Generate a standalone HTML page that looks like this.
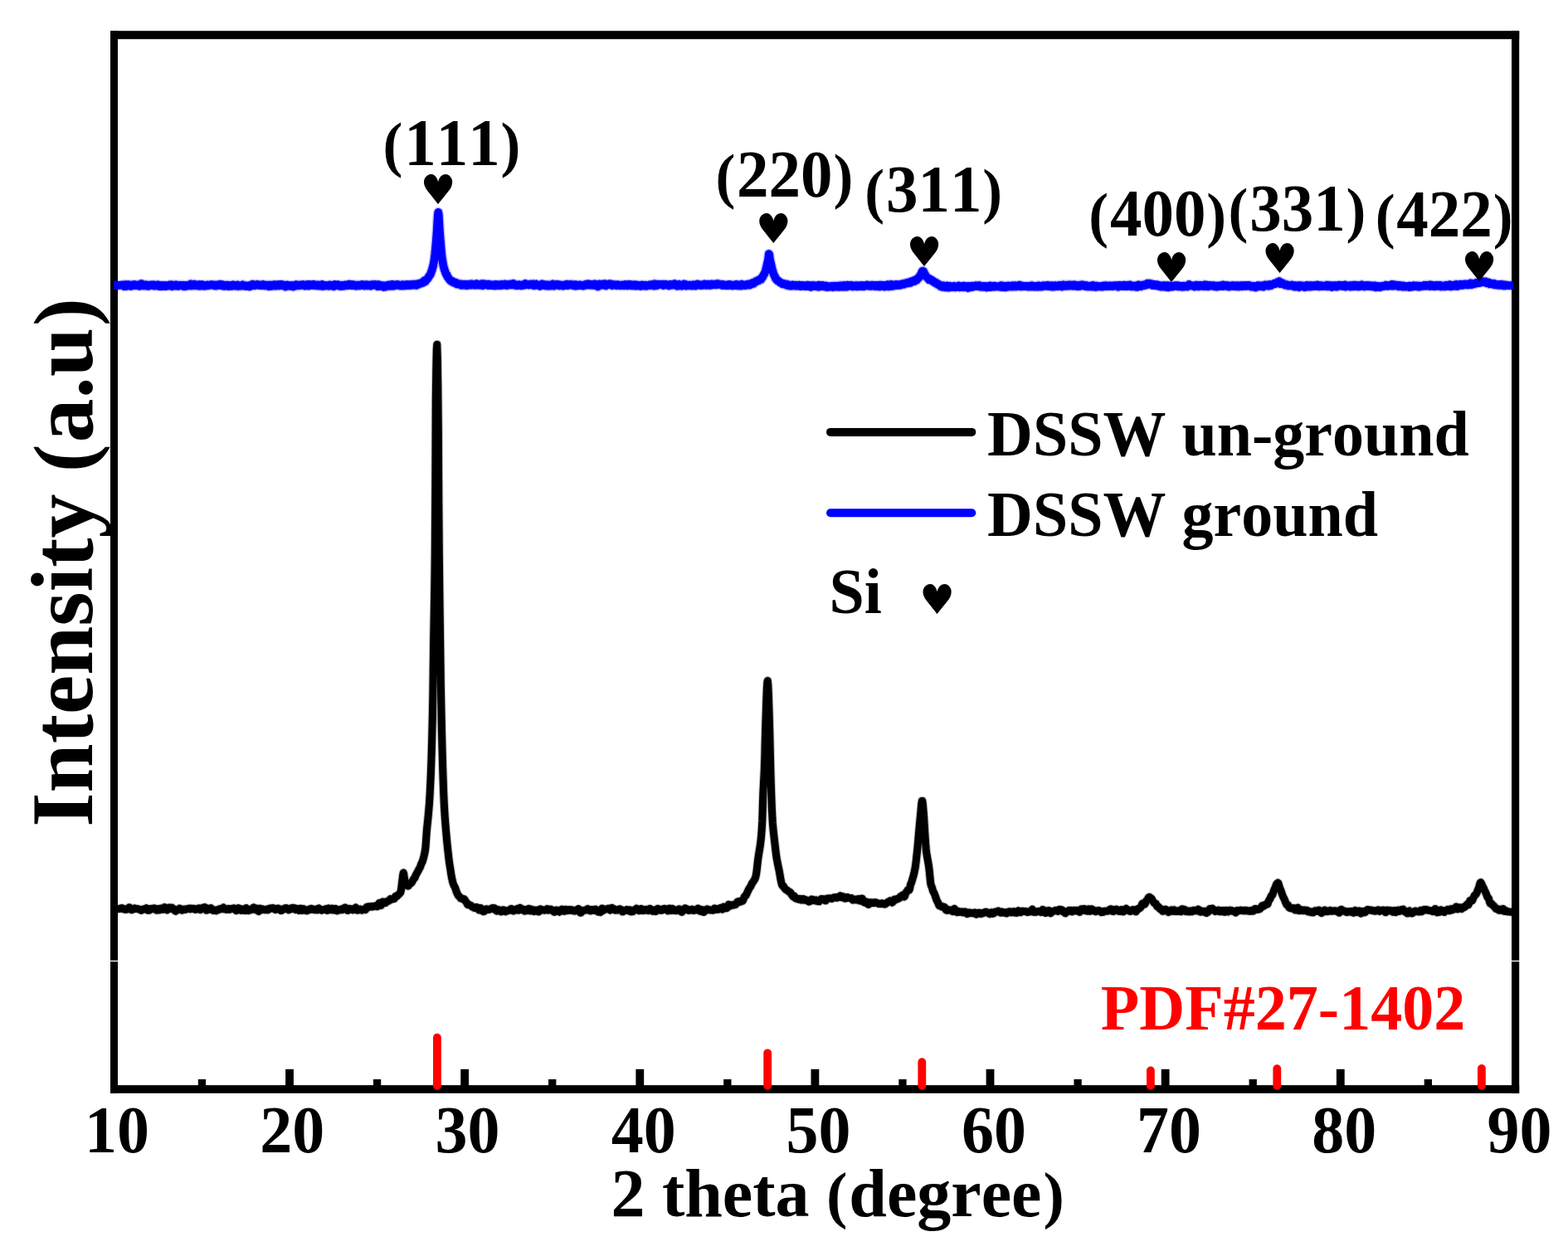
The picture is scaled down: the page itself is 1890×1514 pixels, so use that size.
<!DOCTYPE html>
<html lang="en"><head><meta charset="utf-8">
<style>
html,body{margin:0;padding:0;background:#fff;}
body{width:1890px;height:1514px;overflow:hidden;}
svg{display:block;position:absolute;left:0;top:0;}
text{font-family:"Liberation Serif",serif;font-weight:bold;font-kerning:none;fill:#000;white-space:pre;}
.sym{font-family:"DejaVu Sans","Liberation Serif",sans-serif;font-weight:normal;}
.curve{fill:none;stroke-linejoin:round;stroke-linecap:butt;}
</style></head><body>
<svg width="1890" height="1514" viewBox="0 0 1890 1514">
<rect x="0" y="0" width="1890" height="1514" fill="#fff"/>
<g id="frame" fill="#000">
<rect x="133" y="37.2" width="9" height="1280.6"/>
<rect x="1822" y="37.2" width="9.2" height="1280.6"/>
<rect x="133" y="37.2" width="1698.2" height="10"/>
<rect x="133" y="1308.1" width="1698.2" height="9.7"/>
</g>
<g id="ticks" fill="#000">
<rect x="238.81" y="1301" width="9.3" height="8.1"/>
<rect x="344.12" y="1288.8" width="9.8" height="20.3"/>
<rect x="449.94" y="1301" width="9.3" height="8.1"/>
<rect x="555.25" y="1288.8" width="9.8" height="20.3"/>
<rect x="661.06" y="1301" width="9.3" height="8.1"/>
<rect x="766.38" y="1288.8" width="9.8" height="20.3"/>
<rect x="872.19" y="1301" width="9.3" height="8.1"/>
<rect x="977.50" y="1288.8" width="9.8" height="20.3"/>
<rect x="1083.31" y="1301" width="9.3" height="8.1"/>
<rect x="1188.62" y="1288.8" width="9.8" height="20.3"/>
<rect x="1294.44" y="1301" width="9.3" height="8.1"/>
<rect x="1399.75" y="1288.8" width="9.8" height="20.3"/>
<rect x="1505.56" y="1301" width="9.3" height="8.1"/>
<rect x="1610.88" y="1288.8" width="9.8" height="20.3"/>
<rect x="1716.69" y="1301" width="9.3" height="8.1"/>
</g>
<defs>
<polyline id="c-unground" points="137.3,1095.7 137.8,1095.7 138.3,1095.7 138.8,1095.7 139.3,1095.7 139.8,1095.7 140.3,1095.7 140.8,1095.7 141.3,1095.7
141.8,1095.7 142.3,1095.7 142.8,1095.7 143.3,1095.6 143.8,1095.5 144.3,1095.4 144.8,1095.2 145.3,1094.9 145.8,1094.8
146.3,1094.7 146.8,1094.6 147.3,1094.7 147.8,1095.2 148.3,1095.7 148.8,1095.6 149.3,1095.6 149.8,1095.9 150.3,1096.2
150.8,1096.3 151.3,1096.5 151.8,1096.3 152.3,1095.8 152.8,1095.5 153.3,1095.8 153.8,1096.0 154.3,1095.7 154.8,1094.8
155.3,1094.0 155.8,1093.7 156.3,1094.0 156.8,1094.7 157.3,1095.4 157.8,1096.0 158.3,1096.6 158.8,1096.8 159.3,1096.7
159.8,1096.3 160.3,1095.8 160.8,1095.4 161.3,1095.3 161.8,1095.1 162.3,1094.8 162.8,1094.9 163.3,1095.4 163.8,1095.6
164.3,1095.5 164.8,1095.4 165.3,1095.4 165.8,1095.4 166.3,1095.6 166.8,1095.8 167.3,1095.9 167.8,1096.2 168.3,1096.5
168.8,1096.6 169.3,1096.7 169.8,1097.1 170.3,1097.4 170.8,1097.1 171.3,1096.4 171.8,1096.2 172.3,1096.2 172.8,1095.9
173.3,1095.7 173.8,1095.8 174.3,1095.9 174.8,1096.1 175.3,1095.9 175.8,1095.2 176.3,1094.7 176.8,1095.1 177.3,1096.3
177.8,1097.2 178.3,1096.9 178.8,1095.9 179.3,1095.7 179.8,1096.5 180.3,1097.0 180.8,1096.6 181.3,1095.9 181.8,1095.6
182.3,1095.5 182.8,1095.3 183.3,1095.4 183.8,1095.6 184.3,1095.7 184.8,1095.4 185.3,1094.9 185.8,1094.7 186.3,1095.2
186.8,1095.6 187.3,1095.6 187.8,1095.7 188.3,1096.5 188.8,1097.3 189.3,1097.3 189.8,1096.4 190.3,1095.5 190.8,1095.7
191.3,1096.7 191.8,1097.1 192.3,1096.2 192.8,1095.4 193.3,1095.2 193.8,1095.0 194.3,1095.0 194.8,1095.3 195.3,1095.9
195.8,1096.3 196.3,1096.3 196.8,1096.0 197.3,1095.3 197.8,1094.3 198.3,1093.6 198.8,1093.7 199.3,1094.6 199.8,1095.3
200.3,1096.0 200.8,1096.6 201.3,1097.0 201.8,1096.9 202.3,1096.3 202.8,1095.4 203.3,1094.5 203.8,1094.0 204.3,1093.9
204.8,1093.9 205.3,1094.3 205.8,1094.7 206.3,1094.8 206.8,1094.3 207.3,1094.1 207.8,1094.8 208.3,1095.8 208.8,1096.3
209.3,1096.1 209.8,1095.7 210.3,1096.2 210.8,1097.2 211.3,1098.1 211.8,1098.4 212.3,1097.9 212.8,1096.9 213.3,1096.5
213.8,1096.7 214.3,1096.8 214.8,1096.7 215.3,1096.3 215.8,1095.6 216.3,1095.1 216.8,1095.1 217.3,1095.4 217.8,1095.8
218.3,1096.4 218.8,1096.9 219.3,1097.3 219.8,1097.2 220.3,1096.9 220.8,1096.4 221.3,1096.1 221.8,1096.0 222.3,1096.1
222.8,1096.4 223.3,1096.5 223.8,1096.3 224.3,1096.0 224.8,1095.9 225.3,1095.6 225.8,1095.4 226.3,1095.4 226.8,1095.5
227.3,1095.5 227.8,1095.1 228.3,1095.0 228.8,1095.4 229.3,1095.9 229.8,1095.7 230.3,1095.1 230.8,1094.9 231.3,1095.1
231.8,1095.4 232.3,1095.5 232.8,1095.5 233.3,1095.3 233.8,1095.2 234.3,1095.6 234.8,1096.2 235.3,1096.4 235.8,1096.4
236.3,1096.3 236.8,1096.0 237.3,1095.7 237.8,1095.5 238.3,1095.3 238.8,1095.1 239.3,1094.9 239.8,1094.7 240.3,1094.9
240.8,1095.8 241.3,1096.6 241.8,1096.5 242.3,1096.0 242.8,1095.5 243.3,1095.2 243.8,1094.8 244.3,1094.3 244.8,1093.9
245.3,1093.9 245.8,1094.0 246.3,1093.7 246.8,1093.5 247.3,1093.8 247.8,1094.9 248.3,1096.4 248.8,1097.3 249.3,1097.2
249.8,1096.5 250.3,1095.6 250.8,1095.1 251.3,1095.4 251.8,1095.9 252.3,1096.1 252.8,1096.2 253.3,1095.8 253.8,1095.1
254.3,1094.7 254.8,1095.0 255.3,1095.6 255.8,1096.4 256.3,1097.2 256.8,1097.5 257.3,1097.3 257.8,1097.2 258.3,1097.4
258.8,1097.4 259.3,1097.2 259.8,1097.1 260.3,1097.5 260.8,1097.8 261.3,1097.3 261.8,1096.8 262.3,1096.8 262.8,1096.9
263.3,1096.7 263.8,1096.3 264.3,1096.0 264.8,1095.7 265.3,1095.5 265.8,1095.4 266.3,1095.5 266.8,1095.8 267.3,1095.7
267.8,1095.3 268.3,1094.9 268.8,1094.4 269.3,1094.0 269.8,1094.4 270.3,1095.4 270.8,1096.0 271.3,1096.1 271.8,1096.1
272.3,1096.1 272.8,1096.3 273.3,1096.5 273.8,1096.5 274.3,1096.2 274.8,1095.7 275.3,1095.4 275.8,1095.7 276.3,1096.3
276.8,1096.4 277.3,1096.1 277.8,1095.8 278.3,1095.6 278.8,1095.5 279.3,1095.3 279.8,1095.2 280.3,1095.3 280.8,1095.4
281.3,1095.1 281.8,1094.7 282.3,1094.8 282.8,1095.1 283.3,1095.4 283.8,1096.0 284.3,1097.2 284.8,1097.7 285.3,1097.0
285.8,1096.2 286.3,1095.6 286.8,1095.0 287.3,1094.6 287.8,1094.8 288.3,1095.8 288.8,1096.7 289.3,1097.0 289.8,1097.1
290.3,1097.4 290.8,1097.5 291.3,1096.6 291.8,1095.8 292.3,1095.8 292.8,1096.3 293.3,1096.5 293.8,1096.4 294.3,1096.5
294.8,1097.2 295.3,1097.7 295.8,1096.7 296.3,1095.1 296.8,1094.6 297.3,1095.2 297.8,1096.1 298.3,1097.0 298.8,1097.6
299.3,1097.7 299.8,1097.2 300.3,1096.6 300.8,1096.4 301.3,1096.7 301.8,1096.9 302.3,1096.8 302.8,1096.6 303.3,1096.5
303.8,1096.2 304.3,1095.5 304.8,1094.8 305.3,1094.2 305.8,1093.9 306.3,1094.2 306.8,1095.3 307.3,1096.3 307.8,1096.7
308.3,1096.8 308.8,1096.4 309.3,1095.5 309.8,1094.9 310.3,1095.6 310.8,1097.1 311.3,1098.4 311.8,1098.6 312.3,1097.4
312.8,1095.8 313.3,1095.1 313.8,1095.8 314.3,1096.7 314.8,1097.0 315.3,1096.7 315.8,1096.1 316.3,1095.7 316.8,1095.9
317.3,1096.3 317.8,1096.6 318.3,1096.7 318.8,1096.7 319.3,1096.6 319.8,1096.7 320.3,1096.8 320.8,1096.4 321.3,1096.1
321.8,1096.3 322.3,1096.8 322.8,1096.9 323.3,1096.7 323.8,1096.0 324.3,1095.3 324.8,1095.1 325.3,1095.3 325.8,1095.5
326.3,1095.2 326.8,1094.7 327.3,1094.7 327.8,1095.1 328.3,1095.1 328.8,1094.6 329.3,1094.6 329.8,1094.9 330.3,1095.2
330.8,1095.6 331.3,1096.2 331.8,1096.6 332.3,1096.6 332.8,1096.1 333.3,1095.7 333.8,1095.4 334.3,1095.2 334.8,1095.0
335.3,1094.9 335.8,1095.1 336.3,1095.6 336.8,1095.9 337.3,1096.0 337.8,1096.4 338.3,1097.2 338.8,1097.7 339.3,1097.6
339.8,1097.0 340.3,1096.2 340.8,1095.9 341.3,1096.1 341.8,1096.2 342.3,1095.7 342.8,1095.1 343.3,1094.8 343.8,1094.7
344.3,1094.7 344.8,1094.5 345.3,1094.7 345.8,1095.0 346.3,1095.2 346.8,1095.6 347.3,1096.4 347.8,1096.9 348.3,1096.7
348.8,1096.3 349.3,1095.7 349.8,1095.1 350.3,1094.9 350.8,1095.2 351.3,1095.8 351.8,1095.7 352.3,1095.1 352.8,1094.4
353.3,1094.2 353.8,1094.6 354.3,1094.7 354.8,1094.6 355.3,1094.9 355.8,1095.8 356.3,1096.6 356.8,1096.5 357.3,1095.8
357.8,1095.3 358.3,1095.3 358.8,1095.6 359.3,1096.2 359.8,1097.0 360.3,1097.4 360.8,1096.9 361.3,1096.2 361.8,1095.4
362.3,1095.0 362.8,1095.3 363.3,1096.4 363.8,1097.5 364.3,1097.5 364.8,1096.6 365.3,1095.6 365.8,1095.5 366.3,1096.4
366.8,1097.2 367.3,1097.3 367.8,1097.1 368.3,1096.9 368.8,1096.9 369.3,1097.4 369.8,1097.9 370.3,1097.7 370.8,1097.2
371.3,1096.7 371.8,1096.4 372.3,1096.6 372.8,1096.8 373.3,1096.8 373.8,1096.4 374.3,1095.8 374.8,1095.2 375.3,1095.2
375.8,1095.6 376.3,1095.9 376.8,1096.2 377.3,1096.4 377.8,1096.4 378.3,1096.3 378.8,1096.3 379.3,1096.6 379.8,1096.9
380.3,1096.7 380.8,1096.1 381.3,1096.2 381.8,1096.7 382.3,1096.9 382.8,1096.5 383.3,1095.8 383.8,1095.2 384.3,1094.9
384.8,1095.3 385.3,1095.9 385.8,1096.3 386.3,1096.5 386.8,1096.9 387.3,1097.3 387.8,1097.3 388.3,1097.0 388.8,1096.7
389.3,1096.5 389.8,1096.6 390.3,1096.6 390.8,1096.4 391.3,1096.3 391.8,1096.2 392.3,1095.8 392.8,1095.5 393.3,1095.7
393.8,1096.7 394.3,1097.6 394.8,1097.6 395.3,1096.6 395.8,1095.4 396.3,1094.9 396.8,1095.1 397.3,1095.8 397.8,1096.5
398.3,1096.8 398.8,1096.5 399.3,1096.0 399.8,1095.4 400.3,1095.1 400.8,1095.5 401.3,1096.3 401.8,1097.0 402.3,1097.1
402.8,1096.6 403.3,1095.8 403.8,1095.4 404.3,1095.3 404.8,1095.4 405.3,1096.1 405.8,1097.1 406.3,1097.8 406.8,1097.6
407.3,1097.1 407.8,1096.8 408.3,1096.8 408.8,1096.8 409.3,1097.0 409.8,1096.9 410.3,1096.4 410.8,1096.0 411.3,1096.2
411.8,1096.7 412.3,1096.8 412.8,1096.5 413.3,1095.8 413.8,1095.1 414.3,1094.8 414.8,1094.8 415.3,1094.5 415.8,1094.1
416.3,1094.1 416.8,1094.5 417.3,1095.0 417.8,1095.7 418.3,1096.6 418.8,1097.3 419.3,1097.5 419.8,1097.1 420.3,1096.4
420.8,1095.6 421.3,1095.3 421.8,1095.5 422.3,1095.9 422.8,1096.3 423.3,1096.5 423.8,1096.3 424.3,1096.1 424.8,1096.6
425.3,1097.0 425.8,1096.7 426.3,1096.0 426.8,1095.3 427.3,1095.0 427.8,1094.8 428.3,1094.5 428.8,1094.0 429.3,1094.4
429.8,1096.0 430.3,1097.2 430.8,1097.3 431.3,1096.9 431.8,1096.6 432.3,1096.7 432.8,1096.9 433.3,1096.8 433.8,1096.3
434.3,1096.0 434.8,1095.9 435.3,1096.2 435.8,1096.9 436.3,1097.2 436.8,1096.9 437.3,1096.6 437.8,1096.3 438.3,1096.2
438.8,1096.3 439.3,1096.3 439.8,1096.4 440.3,1096.7 440.8,1096.3 441.3,1095.1 441.8,1093.7 442.3,1093.2 442.8,1093.4
443.3,1093.4 443.8,1093.1 444.3,1092.8 444.8,1092.7 445.3,1093.0 445.8,1093.3 446.3,1093.1 446.8,1093.0 447.3,1093.1
447.8,1092.9 448.3,1092.5 448.8,1092.4 449.3,1092.7 449.8,1092.9 450.3,1092.8 450.8,1092.5 451.3,1092.3 451.8,1092.2
452.3,1092.1 452.8,1091.8 453.3,1091.6 453.8,1092.0 454.3,1092.6 454.8,1092.8 455.3,1092.4 455.8,1091.7 456.3,1090.7
456.8,1089.2 457.3,1088.4 457.8,1089.0 458.3,1090.5 458.8,1091.6 459.3,1091.6 459.8,1090.4 460.3,1088.6 460.8,1087.1
461.3,1087.0 461.8,1087.9 462.3,1088.3 462.8,1088.2 463.3,1088.0 463.8,1088.2 464.3,1088.5 464.8,1088.3 465.3,1087.4
465.8,1086.8 466.3,1086.6 466.8,1086.5 467.3,1086.4 467.8,1086.3 468.3,1086.2 468.8,1085.9 469.3,1085.2 469.8,1084.6
470.3,1084.0 470.8,1083.6 471.3,1083.7 471.8,1083.9 472.3,1084.1 472.8,1084.0 473.3,1083.9 473.8,1083.4 474.3,1083.3
474.8,1083.5 475.3,1083.3 475.8,1082.2 476.3,1081.0 476.8,1080.3 477.3,1080.1 477.8,1080.3 478.3,1080.4 478.8,1080.1
479.3,1079.3 479.8,1078.7 480.3,1078.4 480.8,1078.1 481.3,1077.5 481.8,1076.8 482.3,1076.4 482.8,1075.6 483.3,1073.6
483.8,1070.0 484.3,1066.0 484.8,1062.1 485.3,1058.1 485.8,1054.1 486.3,1052.0 486.8,1054.2 487.3,1058.0 487.8,1060.8
488.3,1062.2 488.8,1063.7 489.3,1065.3 489.8,1066.6 490.3,1067.2 490.8,1067.6 491.3,1067.9 491.8,1068.0 492.3,1067.8
492.8,1067.0 493.3,1065.7 493.8,1064.8 494.3,1064.7 494.8,1064.9 495.3,1064.7 495.8,1064.2 496.3,1063.7 496.8,1062.8
497.3,1061.8 497.8,1061.0 498.3,1060.0 498.8,1059.1 499.3,1058.8 499.8,1058.4 500.3,1057.3 500.8,1055.7 501.3,1054.7
501.8,1053.9 502.3,1053.0 502.8,1051.9 503.3,1051.0 503.8,1050.3 504.3,1049.3 504.8,1048.2 505.3,1047.2 505.8,1046.4
506.3,1045.6 506.8,1044.3 507.3,1042.7 507.8,1041.2 508.3,1040.3 508.8,1039.5 509.3,1038.3 509.8,1036.6 510.3,1034.8
510.8,1032.9 511.3,1030.8 511.8,1028.5 512.3,1026.0 512.8,1022.8 513.3,1017.0 513.8,1009.3 514.3,1002.4 514.8,997.0
515.3,992.2 515.8,987.4 516.3,982.3 516.8,976.7 517.3,970.6 517.8,963.4 518.3,954.5 518.8,944.5 519.3,933.0 519.8,919.7
520.3,904.1 520.8,885.9 521.3,864.7 521.8,840.1 522.3,800.0 522.8,764.9 523.3,736.5 523.8,706.5 524.3,666.4 524.8,590.1
525.3,480.0 525.8,444.1 526.3,421.0 526.8,415.3 527.3,432.1 527.8,464.8 528.3,516.8 528.8,604.6 529.3,666.0 529.8,710.7
530.3,749.1 530.8,785.2 531.3,822.7 531.8,849.9 532.3,873.3 532.8,894.3 533.3,913.1 533.8,929.8 534.3,944.6 534.8,957.6
535.3,968.7 535.8,977.7 536.3,985.4 536.8,992.2 537.3,998.3 537.8,1004.1 538.3,1009.7 538.8,1015.0 539.3,1019.9
539.8,1024.5 540.3,1029.0 540.8,1033.4 541.3,1037.6 541.8,1041.3 542.3,1044.4 542.8,1047.3 543.3,1050.6 543.8,1054.0
544.3,1056.8 544.8,1059.3 545.3,1061.6 545.8,1063.6 546.3,1065.2 546.8,1066.4 547.3,1067.6 547.8,1068.6 548.3,1069.5
548.8,1070.6 549.3,1072.2 549.8,1073.8 550.3,1075.1 550.8,1076.2 551.3,1077.4 551.8,1078.6 552.3,1079.3 552.8,1079.9
553.3,1080.4 553.8,1080.7 554.3,1081.3 554.8,1082.2 555.3,1082.9 555.8,1083.0 556.3,1082.9 556.8,1082.9 557.3,1083.3
557.8,1083.8 558.3,1083.8 558.8,1083.6 559.3,1083.7 559.8,1084.1 560.3,1084.8 560.8,1085.8 561.3,1086.6 561.8,1087.2
562.3,1087.7 562.8,1088.5 563.3,1089.7 563.8,1090.6 564.3,1090.7 564.8,1090.5 565.3,1090.4 565.8,1090.7 566.3,1091.0
566.8,1091.1 567.3,1091.3 567.8,1091.6 568.3,1092.1 568.8,1092.8 569.3,1093.2 569.8,1093.2 570.3,1093.3 570.8,1093.7
571.3,1094.2 571.8,1094.5 572.3,1094.6 572.8,1094.2 573.3,1093.6 573.8,1093.4 574.3,1093.5 574.8,1093.6 575.3,1093.8
575.8,1094.3 576.3,1095.4 576.8,1096.5 577.3,1096.9 577.8,1096.9 578.3,1096.2 578.8,1095.1 579.3,1094.4 579.8,1095.0
580.3,1096.3 580.8,1097.5 581.3,1098.0 581.8,1098.1 582.3,1098.6 582.8,1098.8 583.3,1098.6 583.8,1098.5 584.3,1098.2
584.8,1097.4 585.3,1096.4 585.8,1095.8 586.3,1095.7 586.8,1096.1 587.3,1096.5 587.8,1096.6 588.3,1096.5 588.8,1096.4
589.3,1096.5 589.8,1096.3 590.3,1096.0 590.8,1095.7 591.3,1095.7 591.8,1095.7 592.3,1095.4 592.8,1094.8 593.3,1094.5
593.8,1094.9 594.3,1095.7 594.8,1095.8 595.3,1095.0 595.8,1094.6 596.3,1094.9 596.8,1095.6 597.3,1096.2 597.8,1096.9
598.3,1097.8 598.8,1098.2 599.3,1097.9 599.8,1097.2 600.3,1096.8 600.8,1096.6 601.3,1096.7 601.8,1097.2 602.3,1097.6
602.8,1098.0 603.3,1098.5 603.8,1098.9 604.3,1099.0 604.8,1098.6 605.3,1097.7 605.8,1096.9 606.3,1096.8 606.8,1096.9
607.3,1097.0 607.8,1097.3 608.3,1098.0 608.8,1098.7 609.3,1098.9 609.8,1098.4 610.3,1098.0 610.8,1097.8 611.3,1097.8
611.8,1097.8 612.3,1097.9 612.8,1097.6 613.3,1097.4 613.8,1097.4 614.3,1097.2 614.8,1096.6 615.3,1096.0 615.8,1095.6
616.3,1095.4 616.8,1095.4 617.3,1096.2 617.8,1097.3 618.3,1097.9 618.8,1098.1 619.3,1098.0 619.8,1097.7 620.3,1097.1
620.8,1096.7 621.3,1096.8 621.8,1097.1 622.3,1097.1 622.8,1096.5 623.3,1095.6 623.8,1095.2 624.3,1095.9 624.8,1097.0
625.3,1097.2 625.8,1096.2 626.3,1094.8 626.8,1094.2 627.3,1094.8 627.8,1095.7 628.3,1096.3 628.8,1096.5 629.3,1096.2
629.8,1095.8 630.3,1095.9 630.8,1096.5 631.3,1097.2 631.8,1097.9 632.3,1098.2 632.8,1097.7 633.3,1096.9 633.8,1096.5
634.3,1096.8 634.8,1097.4 635.3,1097.7 635.8,1097.6 636.3,1097.2 636.8,1096.2 637.3,1095.3 637.8,1095.8 638.3,1097.4
638.8,1098.0 639.3,1097.2 639.8,1096.3 640.3,1096.1 640.8,1096.2 641.3,1096.2 641.8,1096.8 642.3,1097.7 642.8,1098.3
643.3,1098.6 643.8,1098.7 644.3,1098.4 644.8,1097.4 645.3,1096.9 645.8,1097.5 646.3,1098.2 646.8,1098.2 647.3,1097.7
647.8,1097.2 648.3,1097.4 648.8,1098.4 649.3,1099.1 649.8,1098.5 650.3,1097.1 650.8,1095.9 651.3,1095.8 651.8,1096.4
652.3,1097.0 652.8,1096.9 653.3,1096.6 653.8,1096.6 654.3,1096.9 654.8,1097.0 655.3,1097.0 655.8,1097.2 656.3,1097.3
656.8,1097.2 657.3,1097.0 657.8,1096.7 658.3,1096.4 658.8,1096.0 659.3,1095.7 659.8,1096.2 660.3,1096.9 660.8,1097.2
661.3,1097.1 661.8,1096.9 662.3,1096.8 662.8,1096.5 663.3,1096.1 663.8,1096.1 664.3,1096.4 664.8,1096.5 665.3,1096.8
665.8,1097.4 666.3,1098.0 666.8,1098.4 667.3,1098.8 667.8,1099.2 668.3,1099.4 668.8,1099.1 669.3,1098.2 669.8,1097.3
670.3,1097.0 670.8,1097.2 671.3,1097.7 671.8,1097.8 672.3,1097.4 672.8,1097.3 673.3,1098.0 673.8,1098.9 674.3,1099.3
674.8,1098.9 675.3,1098.0 675.8,1097.3 676.3,1096.8 676.8,1096.4 677.3,1096.1 677.8,1096.2 678.3,1096.5 678.8,1096.9
679.3,1097.6 679.8,1098.3 680.3,1098.4 680.8,1097.8 681.3,1096.8 681.8,1096.3 682.3,1096.5 682.8,1096.8 683.3,1097.1
683.8,1097.5 684.3,1097.7 684.8,1097.3 685.3,1096.7 685.8,1096.4 686.3,1096.5 686.8,1096.6 687.3,1096.7 687.8,1097.1
688.3,1097.4 688.8,1097.2 689.3,1096.8 689.8,1096.8 690.3,1097.4 690.8,1097.9 691.3,1097.9 691.8,1097.4 692.3,1097.4
692.8,1097.8 693.3,1098.1 693.8,1097.8 694.3,1097.2 694.8,1096.8 695.3,1096.9 695.8,1097.4 696.3,1097.3 696.8,1096.3
697.3,1095.5 697.8,1096.1 698.3,1097.6 698.8,1098.9 699.3,1099.8 699.8,1100.3 700.3,1100.2 700.8,1099.5 701.3,1098.4
701.8,1097.6 702.3,1097.6 702.8,1097.7 703.3,1097.7 703.8,1097.6 704.3,1097.5 704.8,1097.2 705.3,1097.0 705.8,1097.0
706.3,1097.1 706.8,1096.9 707.3,1096.4 707.8,1095.8 708.3,1095.5 708.8,1095.6 709.3,1096.3 709.8,1097.1 710.3,1097.4
710.8,1097.6 711.3,1097.9 711.8,1097.9 712.3,1097.5 712.8,1097.0 713.3,1096.5 713.8,1096.5 714.3,1096.8 714.8,1097.1
715.3,1097.4 715.8,1097.4 716.3,1097.0 716.8,1096.6 717.3,1096.2 717.8,1096.0 718.3,1096.4 718.8,1097.2 719.3,1097.9
719.8,1098.3 720.3,1098.7 720.8,1099.0 721.3,1099.3 721.8,1099.2 722.3,1099.1 722.8,1099.2 723.3,1099.5 723.8,1099.6
724.3,1098.8 724.8,1097.2 725.3,1095.5 725.8,1095.0 726.3,1095.9 726.8,1097.1 727.3,1097.5 727.8,1097.1 728.3,1096.6
728.8,1096.3 729.3,1096.3 729.8,1096.1 730.3,1095.9 730.8,1095.8 731.3,1095.7 731.8,1095.6 732.3,1095.6 732.8,1095.4
733.3,1095.1 733.8,1095.2 734.3,1095.7 734.8,1096.6 735.3,1097.2 735.8,1096.8 736.3,1095.9 736.8,1095.0 737.3,1094.4
737.8,1094.3 738.3,1094.9 738.8,1095.4 739.3,1095.4 739.8,1095.4 740.3,1095.7 740.8,1096.3 741.3,1097.0 741.8,1097.2
742.3,1097.1 742.8,1097.0 743.3,1097.0 743.8,1097.1 744.3,1097.2 744.8,1097.1 745.3,1096.6 745.8,1096.2 746.3,1096.0
746.8,1095.8 747.3,1095.7 747.8,1096.1 748.3,1096.5 748.8,1096.4 749.3,1096.6 749.8,1097.9 750.3,1099.1 750.8,1099.1
751.3,1098.3 751.8,1097.9 752.3,1097.9 752.8,1097.9 753.3,1097.4 753.8,1097.2 754.3,1097.2 754.8,1097.1 755.3,1096.6
755.8,1096.6 756.3,1097.1 756.8,1097.5 757.3,1097.9 757.8,1098.0 758.3,1097.6 758.8,1097.0 759.3,1096.9 759.8,1097.8
760.3,1098.8 760.8,1099.0 761.3,1098.5 761.8,1098.3 762.3,1098.7 762.8,1098.8 763.3,1098.3 763.8,1097.6 764.3,1097.1
764.8,1096.7 765.3,1096.5 765.8,1096.4 766.3,1096.1 766.8,1095.5 767.3,1095.1 767.8,1095.6 768.3,1096.3 768.8,1096.8
769.3,1097.1 769.8,1097.5 770.3,1097.8 770.8,1097.5 771.3,1096.9 771.8,1096.4 772.3,1095.9 772.8,1095.5 773.3,1095.4
773.8,1096.0 774.3,1097.0 774.8,1097.7 775.3,1097.6 775.8,1097.3 776.3,1097.3 776.8,1097.4 777.3,1097.0 777.8,1096.4
778.3,1096.3 778.8,1096.7 779.3,1097.1 779.8,1097.1 780.3,1097.0 780.8,1097.4 781.3,1097.7 781.8,1097.3 782.3,1096.3
782.8,1095.5 783.3,1095.4 783.8,1096.3 784.3,1097.0 784.8,1096.7 785.3,1096.4 785.8,1096.9 786.3,1097.8 786.8,1098.4
787.3,1098.3 787.8,1097.7 788.3,1097.1 788.8,1097.0 789.3,1097.6 789.8,1098.3 790.3,1098.6 790.8,1098.3 791.3,1097.4
791.8,1096.4 792.3,1095.6 792.8,1095.3 793.3,1095.8 793.8,1096.4 794.3,1096.7 794.8,1097.1 795.3,1097.2 795.8,1096.8
796.3,1096.2 796.8,1096.1 797.3,1096.8 797.8,1097.2 798.3,1097.0 798.8,1096.6 799.3,1096.3 799.8,1096.0 800.3,1095.5
800.8,1095.3 801.3,1095.5 801.8,1095.6 802.3,1095.7 802.8,1096.0 803.3,1096.1 803.8,1096.4 804.3,1097.2 804.8,1097.9
805.3,1097.9 805.8,1097.0 806.3,1095.6 806.8,1095.0 807.3,1096.1 807.8,1097.4 808.3,1097.6 808.8,1097.0 809.3,1096.4
809.8,1095.8 810.3,1095.3 810.8,1095.5 811.3,1096.4 811.8,1097.2 812.3,1097.6 812.8,1097.5 813.3,1097.1 813.8,1096.9
814.3,1097.2 814.8,1097.5 815.3,1097.8 815.8,1097.7 816.3,1097.0 816.8,1096.6 817.3,1096.7 817.8,1096.3 818.3,1095.7
818.8,1095.7 819.3,1096.3 819.8,1097.1 820.3,1097.7 820.8,1098.4 821.3,1099.1 821.8,1099.4 822.3,1099.0 822.8,1098.1
823.3,1097.4 823.8,1097.3 824.3,1097.1 824.8,1096.3 825.3,1095.3 825.8,1094.8 826.3,1095.0 826.8,1095.3 827.3,1095.4
827.8,1095.6 828.3,1096.2 828.8,1096.7 829.3,1097.1 829.8,1097.4 830.3,1097.6 830.8,1097.4 831.3,1097.0 831.8,1096.8
832.3,1096.9 832.8,1097.0 833.3,1096.8 833.8,1096.3 834.3,1096.0 834.8,1096.3 835.3,1097.0 835.8,1097.6 836.3,1097.6
836.8,1097.2 837.3,1097.0 837.8,1097.0 838.3,1096.8 838.8,1096.5 839.3,1096.6 839.8,1096.9 840.3,1096.6 840.8,1095.7
841.3,1095.0 841.8,1095.1 842.3,1095.7 842.8,1096.7 843.3,1097.7 843.8,1098.3 844.3,1098.4 844.8,1098.4 845.3,1097.9
845.8,1096.9 846.3,1096.6 846.8,1097.4 847.3,1098.7 847.8,1099.6 848.3,1099.6 848.8,1099.0 849.3,1098.1 849.8,1097.2
850.3,1096.9 850.8,1097.3 851.3,1097.4 851.8,1096.6 852.3,1095.8 852.8,1095.9 853.3,1096.4 853.8,1096.6 854.3,1096.7
854.8,1096.8 855.3,1096.9 855.8,1096.7 856.3,1096.7 856.8,1097.0 857.3,1097.1 857.8,1096.9 858.3,1096.8 858.8,1097.0
859.3,1097.3 859.8,1097.1 860.3,1096.5 860.8,1095.7 861.3,1095.0 861.8,1094.9 862.3,1095.5 862.8,1096.3 863.3,1096.5
863.8,1096.1 864.3,1095.6 864.8,1095.9 865.3,1096.3 865.8,1096.3 866.3,1095.6 866.8,1095.1 867.3,1095.0 867.8,1094.8
868.3,1094.5 868.8,1094.2 869.3,1094.5 869.8,1095.1 870.3,1095.9 870.8,1096.2 871.3,1095.3 871.8,1093.9 872.3,1093.1
872.8,1093.3 873.3,1093.9 873.8,1094.3 874.3,1094.3 874.8,1094.4 875.3,1094.6 875.8,1094.8 876.3,1094.6 876.8,1093.6
877.3,1092.2 877.8,1090.9 878.3,1090.4 878.8,1090.6 879.3,1091.1 879.8,1091.8 880.3,1092.1 880.8,1091.6 881.3,1091.0
881.8,1090.7 882.3,1090.7 882.8,1090.8 883.3,1091.0 883.8,1091.1 884.3,1091.0 884.8,1090.9 885.3,1090.6 885.8,1090.7
886.3,1090.6 886.8,1090.2 887.3,1089.5 887.8,1088.7 888.3,1087.8 888.8,1087.2 889.3,1086.8 889.8,1086.7 890.3,1086.6
890.8,1086.9 891.3,1087.2 891.8,1087.2 892.3,1087.0 892.8,1086.6 893.3,1085.9 893.8,1085.6 894.3,1085.8 894.8,1086.2
895.3,1085.8 895.8,1084.7 896.3,1083.5 896.8,1082.2 897.3,1080.9 897.8,1080.3 898.3,1080.1 898.8,1079.7 899.3,1078.8
899.8,1077.7 900.3,1076.7 900.8,1075.6 901.3,1074.4 901.8,1073.4 902.3,1072.5 902.8,1071.5 903.3,1070.6 903.8,1069.9
904.3,1069.2 904.8,1068.5 905.3,1067.5 905.8,1066.2 906.3,1065.0 906.8,1064.2 907.3,1063.7 907.8,1063.0 908.3,1062.2
908.8,1061.4 909.3,1060.7 909.8,1059.8 910.3,1058.6 910.8,1056.9 911.3,1054.9 911.8,1052.0 912.3,1048.0 912.8,1043.5
913.3,1039.0 913.8,1034.9 914.3,1031.5 914.8,1028.4 915.3,1025.4 915.8,1022.4 916.3,1019.1 916.8,1015.3 917.3,1010.9
917.8,1005.5 918.3,998.7 918.8,989.5 919.3,973.0 919.8,957.5 920.3,947.0 920.8,937.9 921.3,927.7 921.8,913.2 922.3,891.3
922.8,873.9 923.3,858.1 923.8,843.2 924.3,830.8 924.8,822.8 925.3,820.6 925.8,825.7 926.3,836.2 926.8,850.5 927.3,866.8
927.8,883.6 928.3,906.7 928.8,927.6 929.3,945.2 929.8,960.0 930.3,972.5 930.8,983.3 931.3,991.6 931.8,997.6 932.3,1002.6
932.8,1007.1 933.3,1011.2 933.8,1015.6 934.3,1020.0 934.8,1024.4 935.3,1028.5 935.8,1032.1 936.3,1035.3 936.8,1038.0
937.3,1040.5 937.8,1043.1 938.3,1045.6 938.8,1047.8 939.3,1050.2 939.8,1053.0 940.3,1056.0 940.8,1058.9 941.3,1061.7
941.8,1064.1 942.3,1065.9 942.8,1067.1 943.3,1067.8 943.8,1068.0 944.3,1068.0 944.8,1068.8 945.3,1070.1 945.8,1070.8
946.3,1071.2 946.8,1071.8 947.3,1072.4 947.8,1072.7 948.3,1073.0 948.8,1073.2 949.3,1073.6 949.8,1074.2 950.3,1074.5
950.8,1074.7 951.3,1075.0 951.8,1075.3 952.3,1075.4 952.8,1075.9 953.3,1077.0 953.8,1077.9 954.3,1078.5 954.8,1079.1
955.3,1080.0 955.8,1080.7 956.3,1080.4 956.8,1079.8 957.3,1080.0 957.8,1081.1 958.3,1082.2 958.8,1082.7 959.3,1082.9
959.8,1083.2 960.3,1083.5 960.8,1083.2 961.3,1083.0 961.8,1083.2 962.3,1083.7 962.8,1084.1 963.3,1084.3 963.8,1084.2
964.3,1083.9 964.8,1083.5 965.3,1083.7 965.8,1084.5 966.3,1084.9 966.8,1084.7 967.3,1083.9 967.8,1083.5 968.3,1084.1
968.8,1084.9 969.3,1085.0 969.8,1084.5 970.3,1084.3 970.8,1084.5 971.3,1085.0 971.8,1085.3 972.3,1085.3 972.8,1085.2
973.3,1085.3 973.8,1085.7 974.3,1086.2 974.8,1086.8 975.3,1087.0 975.8,1086.7 976.3,1086.2 976.8,1085.8 977.3,1085.3
977.8,1084.5 978.3,1084.0 978.8,1084.2 979.3,1084.9 979.8,1085.4 980.3,1085.5 980.8,1085.1 981.3,1084.8 981.8,1085.1
982.3,1085.3 982.8,1084.9 983.3,1084.8 983.8,1085.5 984.3,1086.2 984.8,1086.1 985.3,1085.6 985.8,1085.5 986.3,1086.0
986.8,1086.6 987.3,1086.7 987.8,1086.2 988.3,1085.6 988.8,1084.9 989.3,1084.2 989.8,1083.6 990.3,1083.4 990.8,1083.6
991.3,1083.8 991.8,1083.9 992.3,1083.9 992.8,1083.8 993.3,1083.7 993.8,1084.0 994.3,1084.8 994.8,1085.7 995.3,1085.7
995.8,1084.7 996.3,1083.7 996.8,1083.1 997.3,1082.9 997.8,1082.9 998.3,1083.0 998.8,1083.2 999.3,1083.1 999.8,1082.7
1000.3,1082.7 1000.8,1082.9 1001.3,1083.0 1001.8,1083.2 1002.3,1083.3 1002.8,1083.3 1003.3,1083.0 1003.8,1082.7
1004.3,1082.4 1004.8,1082.1 1005.3,1081.7 1005.8,1081.8 1006.3,1082.0 1006.8,1081.8 1007.3,1081.5 1007.8,1081.5
1008.3,1082.0 1008.8,1082.3 1009.3,1082.1 1009.8,1081.6 1010.3,1081.3 1010.8,1081.4 1011.3,1081.5 1011.8,1081.2
1012.3,1080.3 1012.8,1079.8 1013.3,1080.3 1013.8,1081.3 1014.3,1081.8 1014.8,1081.6 1015.3,1081.4 1015.8,1080.9
1016.3,1080.7 1016.8,1081.3 1017.3,1082.4 1017.8,1082.9 1018.3,1082.6 1018.8,1082.7 1019.3,1083.0 1019.8,1082.6
1020.3,1081.7 1020.8,1081.4 1021.3,1081.5 1021.8,1081.6 1022.3,1082.0 1022.8,1082.5 1023.3,1082.6 1023.8,1082.5
1024.3,1082.4 1024.8,1082.6 1025.3,1082.8 1025.8,1082.8 1026.3,1082.6 1026.8,1083.1 1027.3,1084.2 1027.8,1084.8
1028.3,1084.5 1028.8,1084.1 1029.3,1084.3 1029.8,1084.8 1030.3,1084.7 1030.8,1084.2 1031.3,1084.0 1031.8,1084.1
1032.3,1084.1 1032.8,1084.5 1033.3,1085.0 1033.8,1085.0 1034.3,1084.3 1034.8,1083.7 1035.3,1084.0 1035.8,1084.9
1036.3,1085.6 1036.8,1086.0 1037.3,1086.0 1037.8,1085.2 1038.3,1084.0 1038.8,1083.1 1039.3,1083.2 1039.8,1084.2
1040.3,1085.6 1040.8,1086.9 1041.3,1087.5 1041.8,1087.4 1042.3,1087.7 1042.8,1088.2 1043.3,1088.1 1043.8,1087.5
1044.3,1087.0 1044.8,1087.2 1045.3,1088.1 1045.8,1089.2 1046.3,1090.0 1046.8,1090.3 1047.3,1090.2 1047.8,1089.6
1048.3,1088.8 1048.8,1088.1 1049.3,1087.7 1049.8,1087.7 1050.3,1088.0 1050.8,1088.5 1051.3,1088.6 1051.8,1088.3
1052.3,1088.0 1052.8,1088.4 1053.3,1088.5 1053.8,1088.0 1054.3,1087.7 1054.8,1087.7 1055.3,1087.7 1055.8,1087.9
1056.3,1088.1 1056.8,1088.3 1057.3,1088.6 1057.8,1088.7 1058.3,1088.7 1058.8,1089.0 1059.3,1089.5 1059.8,1089.6
1060.3,1089.6 1060.8,1089.6 1061.3,1089.6 1061.8,1089.5 1062.3,1089.2 1062.8,1088.9 1063.3,1089.3 1063.8,1089.6
1064.3,1089.5 1064.8,1089.3 1065.3,1089.5 1065.8,1089.9 1066.3,1090.0 1066.8,1090.0 1067.3,1089.7 1067.8,1089.2
1068.3,1088.7 1068.8,1088.4 1069.3,1088.1 1069.8,1087.6 1070.3,1087.1 1070.8,1087.0 1071.3,1087.0 1071.8,1087.0
1072.3,1086.5 1072.8,1085.8 1073.3,1085.8 1073.8,1086.2 1074.3,1086.9 1074.8,1087.6 1075.3,1088.0 1075.8,1087.6
1076.3,1086.9 1076.8,1086.5 1077.3,1086.0 1077.8,1084.9 1078.3,1084.0 1078.8,1084.0 1079.3,1084.5 1079.8,1084.6
1080.3,1084.2 1080.8,1084.0 1081.3,1083.9 1081.8,1083.5 1082.3,1083.2 1082.8,1083.1 1083.3,1083.1 1083.8,1082.9
1084.3,1082.4 1084.8,1081.6 1085.3,1080.8 1085.8,1080.3 1086.3,1080.2 1086.8,1080.3 1087.3,1079.9 1087.8,1079.0
1088.3,1078.7 1088.8,1079.5 1089.3,1080.6 1089.8,1081.0 1090.3,1080.6 1090.8,1079.5 1091.3,1077.9 1091.8,1076.4
1092.3,1075.4 1092.8,1075.1 1093.3,1074.7 1093.8,1073.6 1094.3,1072.6 1094.8,1072.4 1095.3,1072.8 1095.8,1073.0
1096.3,1072.1 1096.8,1070.0 1097.3,1067.3 1097.8,1065.5 1098.3,1064.5 1098.8,1063.3 1099.3,1061.6 1099.8,1059.8
1100.3,1058.2 1100.8,1056.6 1101.3,1054.7 1101.8,1052.7 1102.3,1050.4 1102.8,1047.9 1103.3,1045.1 1103.8,1041.5
1104.3,1037.3 1104.8,1032.7 1105.3,1028.1 1105.8,1023.3 1106.3,1018.0 1106.8,1012.2 1107.3,1006.3 1107.8,1000.8
1108.3,995.3 1108.8,989.9 1109.3,984.8 1109.8,979.8 1110.3,974.0 1110.8,968.6 1111.3,965.5 1111.8,965.5 1112.3,969.0
1112.8,974.6 1113.3,980.7 1113.8,987.6 1114.3,996.4 1114.8,1004.4 1115.3,1011.9 1115.8,1018.7 1116.3,1024.2
1116.8,1028.1 1117.3,1031.4 1117.8,1034.2 1118.3,1036.8 1118.8,1039.6 1119.3,1042.7 1119.8,1046.1 1120.3,1050.6
1120.8,1055.8 1121.3,1060.9 1121.8,1065.0 1122.3,1067.3 1122.8,1068.4 1123.3,1069.5 1123.8,1071.2 1124.3,1073.2
1124.8,1074.5 1125.3,1075.3 1125.8,1076.2 1126.3,1077.4 1126.8,1078.7 1127.3,1080.0 1127.8,1081.5 1128.3,1083.0
1128.8,1084.5 1129.3,1085.6 1129.8,1086.5 1130.3,1087.4 1130.8,1088.5 1131.3,1089.9 1131.8,1091.2 1132.3,1091.9
1132.8,1092.0 1133.3,1091.8 1133.8,1091.7 1134.3,1091.9 1134.8,1092.5 1135.3,1093.2 1135.8,1093.2 1136.3,1093.0
1136.8,1093.4 1137.3,1093.9 1137.8,1093.8 1138.3,1093.4 1138.8,1093.8 1139.3,1095.1 1139.8,1096.3 1140.3,1096.9
1140.8,1097.2 1141.3,1097.3 1141.8,1097.4 1142.3,1097.3 1142.8,1097.1 1143.3,1096.8 1143.8,1096.7 1144.3,1096.8
1144.8,1096.9 1145.3,1096.9 1145.8,1096.9 1146.3,1097.0 1146.8,1097.3 1147.3,1097.8 1147.8,1098.4 1148.3,1098.7
1148.8,1098.5 1149.3,1097.6 1149.8,1096.1 1150.3,1095.3 1150.8,1095.7 1151.3,1097.2 1151.8,1098.5 1152.3,1099.1
1152.8,1099.2 1153.3,1099.3 1153.8,1099.7 1154.3,1099.5 1154.8,1098.8 1155.3,1098.5 1155.8,1098.6 1156.3,1098.8
1156.8,1099.0 1157.3,1099.3 1157.8,1099.5 1158.3,1099.6 1158.8,1099.5 1159.3,1099.1 1159.8,1099.0 1160.3,1099.5
1160.8,1099.9 1161.3,1099.9 1161.8,1099.7 1162.3,1099.4 1162.8,1099.1 1163.3,1099.0 1163.8,1099.3 1164.3,1099.7
1164.8,1100.2 1165.3,1100.9 1165.8,1101.6 1166.3,1101.4 1166.8,1100.5 1167.3,1100.1 1167.8,1100.5 1168.3,1100.8
1168.8,1100.5 1169.3,1100.1 1169.8,1100.2 1170.3,1100.3 1170.8,1100.5 1171.3,1100.7 1171.8,1100.6 1172.3,1100.6
1172.8,1100.8 1173.3,1100.9 1173.8,1100.6 1174.3,1100.3 1174.8,1099.9 1175.3,1099.9 1175.8,1100.6 1176.3,1101.7
1176.8,1102.3 1177.3,1101.9 1177.8,1101.2 1178.3,1100.7 1178.8,1100.4 1179.3,1100.3 1179.8,1100.4 1180.3,1100.4
1180.8,1100.3 1181.3,1100.6 1181.8,1101.3 1182.3,1101.6 1182.8,1101.2 1183.3,1100.6 1183.8,1100.6 1184.3,1101.0
1184.8,1101.0 1185.3,1100.7 1185.8,1100.3 1186.3,1100.1 1186.8,1099.9 1187.3,1099.5 1187.8,1099.3 1188.3,1099.2
1188.8,1099.2 1189.3,1099.6 1189.8,1100.0 1190.3,1099.9 1190.8,1099.9 1191.3,1100.4 1191.8,1101.0 1192.3,1101.4
1192.8,1101.7 1193.3,1101.7 1193.8,1101.4 1194.3,1100.7 1194.8,1099.9 1195.3,1099.7 1195.8,1100.2 1196.3,1100.9
1196.8,1101.4 1197.3,1101.2 1197.8,1100.5 1198.3,1099.8 1198.8,1099.3 1199.3,1099.2 1199.8,1099.3 1200.3,1099.5
1200.8,1099.4 1201.3,1099.2 1201.8,1099.0 1202.3,1098.7 1202.8,1098.2 1203.3,1098.1 1203.8,1098.6 1204.3,1099.2
1204.8,1099.4 1205.3,1099.4 1205.8,1099.8 1206.3,1100.3 1206.8,1100.2 1207.3,1099.5 1207.8,1099.1 1208.3,1099.4
1208.8,1099.8 1209.3,1100.0 1209.8,1100.2 1210.3,1100.2 1210.8,1099.9 1211.3,1099.8 1211.8,1100.2 1212.3,1100.5
1212.8,1100.8 1213.3,1101.0 1213.8,1100.5 1214.3,1099.8 1214.8,1099.4 1215.3,1099.2 1215.8,1099.2 1216.3,1099.0
1216.8,1098.8 1217.3,1098.9 1217.8,1099.3 1218.3,1099.8 1218.8,1100.0 1219.3,1100.0 1219.8,1099.7 1220.3,1099.3
1220.8,1099.0 1221.3,1098.8 1221.8,1098.7 1222.3,1098.8 1222.8,1099.6 1223.3,1100.1 1223.8,1099.7 1224.3,1099.0
1224.8,1099.0 1225.3,1099.7 1225.8,1100.4 1226.3,1100.1 1226.8,1098.7 1227.3,1097.7 1227.8,1097.8 1228.3,1098.5
1228.8,1099.0 1229.3,1099.3 1229.8,1099.6 1230.3,1099.8 1230.8,1099.5 1231.3,1099.0 1231.8,1098.5 1232.3,1098.3
1232.8,1098.3 1233.3,1098.5 1233.8,1098.6 1234.3,1098.5 1234.8,1098.4 1235.3,1098.5 1235.8,1098.5 1236.3,1098.4
1236.8,1098.6 1237.3,1099.0 1237.8,1099.4 1238.3,1099.6 1238.8,1099.3 1239.3,1099.1 1239.8,1099.2 1240.3,1099.2
1240.8,1099.0 1241.3,1099.0 1241.8,1099.0 1242.3,1098.5 1242.8,1097.9 1243.3,1097.4 1243.8,1096.6 1244.3,1096.1
1244.8,1096.8 1245.3,1098.3 1245.8,1099.3 1246.3,1099.5 1246.8,1099.1 1247.3,1098.9 1247.8,1099.2 1248.3,1099.5
1248.8,1099.4 1249.3,1099.2 1249.8,1099.0 1250.3,1098.8 1250.8,1098.6 1251.3,1098.6 1251.8,1098.6 1252.3,1098.5
1252.8,1098.4 1253.3,1098.6 1253.8,1099.0 1254.3,1099.4 1254.8,1099.7 1255.3,1099.6 1255.8,1098.8 1256.3,1097.4
1256.8,1096.5 1257.3,1096.7 1257.8,1097.2 1258.3,1097.5 1258.8,1098.1 1259.3,1099.2 1259.8,1100.3 1260.3,1100.6
1260.8,1099.9 1261.3,1098.7 1261.8,1097.9 1262.3,1097.8 1262.8,1098.1 1263.3,1098.1 1263.8,1097.9 1264.3,1097.6
1264.8,1097.8 1265.3,1098.7 1265.8,1100.1 1266.3,1100.9 1266.8,1100.6 1267.3,1099.6 1267.8,1099.0 1268.3,1098.9
1268.8,1099.0 1269.3,1098.7 1269.8,1098.3 1270.3,1098.1 1270.8,1098.1 1271.3,1097.9 1271.8,1097.6 1272.3,1097.3
1272.8,1097.5 1273.3,1097.7 1273.8,1097.6 1274.3,1097.8 1274.8,1098.4 1275.3,1098.5 1275.8,1097.8 1276.3,1096.8
1276.8,1096.3 1277.3,1096.3 1277.8,1096.8 1278.3,1097.6 1278.8,1097.8 1279.3,1097.1 1279.8,1096.7 1280.3,1096.9
1280.8,1097.6 1281.3,1098.5 1281.8,1099.4 1282.3,1099.5 1282.8,1099.3 1283.3,1099.8 1283.8,1100.8 1284.3,1100.9
1284.8,1100.2 1285.3,1099.5 1285.8,1099.0 1286.3,1098.5 1286.8,1098.5 1287.3,1098.6 1287.8,1098.2 1288.3,1097.5
1288.8,1097.2 1289.3,1097.5 1289.8,1097.7 1290.3,1097.5 1290.8,1097.4 1291.3,1098.2 1291.8,1098.9 1292.3,1098.9
1292.8,1098.5 1293.3,1098.4 1293.8,1098.2 1294.3,1097.7 1294.8,1097.3 1295.3,1097.5 1295.8,1097.9 1296.3,1098.0
1296.8,1097.8 1297.3,1097.6 1297.8,1097.3 1298.3,1097.2 1298.8,1097.6 1299.3,1097.9 1299.8,1098.1 1300.3,1098.5
1300.8,1099.1 1301.3,1099.4 1301.8,1099.0 1302.3,1097.8 1302.8,1096.4 1303.3,1095.9 1303.8,1096.2 1304.3,1096.8
1304.8,1097.0 1305.3,1096.7 1305.8,1095.9 1306.3,1095.4 1306.8,1095.5 1307.3,1096.1 1307.8,1097.0 1308.3,1097.8
1308.8,1097.9 1309.3,1097.5 1309.8,1097.6 1310.3,1098.2 1310.8,1098.0 1311.3,1096.8 1311.8,1095.7 1312.3,1095.7
1312.8,1096.6 1313.3,1097.6 1313.8,1098.3 1314.3,1098.1 1314.8,1097.2 1315.3,1096.3 1315.8,1095.8 1316.3,1096.0
1316.8,1096.5 1317.3,1097.1 1317.8,1097.8 1318.3,1098.0 1318.8,1097.8 1319.3,1097.5 1319.8,1097.8 1320.3,1098.5
1320.8,1098.8 1321.3,1098.4 1321.8,1097.9 1322.3,1097.7 1322.8,1097.8 1323.3,1097.8 1323.8,1097.5 1324.3,1097.5
1324.8,1097.6 1325.3,1097.8 1325.8,1097.9 1326.3,1098.3 1326.8,1099.1 1327.3,1099.7 1327.8,1099.5 1328.3,1098.9
1328.8,1099.0 1329.3,1099.5 1329.8,1099.5 1330.3,1098.8 1330.8,1098.2 1331.3,1098.2 1331.8,1098.4 1332.3,1098.4
1332.8,1098.3 1333.3,1098.3 1333.8,1098.2 1334.3,1098.0 1334.8,1098.1 1335.3,1098.2 1335.8,1098.0 1336.3,1097.6
1336.8,1097.0 1337.3,1096.6 1337.8,1096.3 1338.3,1096.1 1338.8,1095.8 1339.3,1095.8 1339.8,1096.7 1340.3,1097.8
1340.8,1098.4 1341.3,1098.4 1341.8,1098.4 1342.3,1098.6 1342.8,1098.2 1343.3,1097.1 1343.8,1096.4 1344.3,1096.3
1344.8,1096.5 1345.3,1096.2 1345.8,1096.0 1346.3,1096.3 1346.8,1096.7 1347.3,1097.0 1347.8,1097.5 1348.3,1098.0
1348.8,1098.4 1349.3,1098.4 1349.8,1098.4 1350.3,1098.5 1350.8,1098.0 1351.3,1097.0 1351.8,1096.4 1352.3,1096.8
1352.8,1097.7 1353.3,1098.5 1353.8,1099.0 1354.3,1098.8 1354.8,1098.4 1355.3,1097.8 1355.8,1097.2 1356.3,1096.6
1356.8,1095.8 1357.3,1095.3 1357.8,1095.7 1358.3,1096.7 1358.8,1097.1 1359.3,1096.9 1359.8,1096.7 1360.3,1097.2
1360.8,1097.8 1361.3,1098.2 1361.8,1098.4 1362.3,1098.6 1362.8,1098.5 1363.3,1098.1 1363.8,1097.7 1364.3,1097.3
1364.8,1096.9 1365.3,1096.6 1365.8,1096.5 1366.3,1096.8 1366.8,1097.3 1367.3,1097.6 1367.8,1097.9 1368.3,1098.4
1368.8,1098.9 1369.3,1098.9 1369.8,1098.2 1370.3,1097.0 1370.8,1095.9 1371.3,1095.4 1371.8,1095.5 1372.3,1095.5
1372.8,1095.3 1373.3,1095.0 1373.8,1094.9 1374.3,1094.4 1374.8,1093.8 1375.3,1093.0 1375.8,1091.8 1376.3,1090.5
1376.8,1089.4 1377.3,1088.9 1377.8,1089.0 1378.3,1089.6 1378.8,1090.1 1379.3,1090.2 1379.8,1090.0 1380.3,1089.3
1380.8,1088.0 1381.3,1086.6 1381.8,1085.7 1382.3,1085.3 1382.8,1085.0 1383.3,1084.1 1383.8,1083.0 1384.3,1082.2
1384.8,1081.6 1385.3,1081.3 1385.8,1081.4 1386.3,1082.1 1386.8,1082.7 1387.3,1082.9 1387.8,1083.0 1388.3,1083.6
1388.8,1084.6 1389.3,1085.5 1389.8,1086.4 1390.3,1087.3 1390.8,1087.9 1391.3,1088.5 1391.8,1088.9 1392.3,1089.0
1392.8,1088.9 1393.3,1089.3 1393.8,1090.6 1394.3,1092.0 1394.8,1092.8 1395.3,1093.0 1395.8,1092.9 1396.3,1093.0
1396.8,1093.4 1397.3,1094.3 1397.8,1095.2 1398.3,1095.8 1398.8,1095.9 1399.3,1095.7 1399.8,1095.7 1400.3,1096.2
1400.8,1097.2 1401.3,1098.3 1401.8,1098.4 1402.3,1097.8 1402.8,1097.4 1403.3,1097.2 1403.8,1096.8 1404.3,1096.3
1404.8,1096.1 1405.3,1096.3 1405.8,1097.0 1406.3,1097.7 1406.8,1098.0 1407.3,1098.4 1407.8,1099.2 1408.3,1099.6
1408.8,1099.4 1409.3,1098.7 1409.8,1098.1 1410.3,1097.8 1410.8,1097.4 1411.3,1097.1 1411.8,1096.9 1412.3,1097.2
1412.8,1097.9 1413.3,1098.4 1413.8,1098.1 1414.3,1097.5 1414.8,1096.8 1415.3,1096.7 1415.8,1097.4 1416.3,1098.1
1416.8,1098.6 1417.3,1098.7 1417.8,1098.6 1418.3,1098.4 1418.8,1098.2 1419.3,1098.1 1419.8,1098.2 1420.3,1098.4
1420.8,1098.4 1421.3,1097.8 1421.8,1097.4 1422.3,1097.9 1422.8,1098.8 1423.3,1098.9 1423.8,1097.6 1424.3,1096.2
1424.8,1095.7 1425.3,1095.9 1425.8,1096.4 1426.3,1096.7 1426.8,1096.5 1427.3,1096.2 1427.8,1096.3 1428.3,1097.0
1428.8,1098.0 1429.3,1098.7 1429.8,1098.7 1430.3,1098.2 1430.8,1097.9 1431.3,1098.0 1431.8,1097.9 1432.3,1097.9
1432.8,1098.4 1433.3,1099.1 1433.8,1099.0 1434.3,1098.5 1434.8,1098.0 1435.3,1098.0 1435.8,1098.4 1436.3,1098.8
1436.8,1098.9 1437.3,1098.7 1437.8,1098.1 1438.3,1097.5 1438.8,1097.3 1439.3,1097.4 1439.8,1097.3 1440.3,1097.2
1440.8,1097.5 1441.3,1097.9 1441.8,1098.0 1442.3,1097.7 1442.8,1097.6 1443.3,1097.3 1443.8,1096.6 1444.3,1096.1
1444.8,1096.4 1445.3,1097.6 1445.8,1098.6 1446.3,1099.1 1446.8,1099.2 1447.3,1099.3 1447.8,1099.1 1448.3,1098.5
1448.8,1098.1 1449.3,1098.3 1449.8,1098.7 1450.3,1098.8 1450.8,1099.1 1451.3,1099.4 1451.8,1099.1 1452.3,1098.3
1452.8,1098.2 1453.3,1099.2 1453.8,1100.4 1454.3,1100.6 1454.8,1100.0 1455.3,1099.5 1455.8,1099.4 1456.3,1099.3
1456.8,1098.7 1457.3,1097.8 1457.8,1096.5 1458.3,1095.5 1458.8,1095.9 1459.3,1096.7 1459.8,1096.7 1460.3,1095.8
1460.8,1095.2 1461.3,1095.1 1461.8,1095.5 1462.3,1096.4 1462.8,1096.7 1463.3,1096.7 1463.8,1097.2 1464.3,1098.1
1464.8,1098.6 1465.3,1098.4 1465.8,1098.1 1466.3,1098.2 1466.8,1098.3 1467.3,1098.0 1467.8,1097.4 1468.3,1097.1
1468.8,1097.6 1469.3,1098.4 1469.8,1098.8 1470.3,1098.4 1470.8,1097.7 1471.3,1097.5 1471.8,1097.6 1472.3,1097.8
1472.8,1098.2 1473.3,1099.0 1473.8,1099.0 1474.3,1098.1 1474.8,1097.6 1475.3,1097.9 1475.8,1098.7 1476.3,1099.2
1476.8,1098.8 1477.3,1098.0 1477.8,1097.4 1478.3,1097.6 1478.8,1098.1 1479.3,1098.4 1479.8,1098.8 1480.3,1099.1
1480.8,1098.7 1481.3,1097.8 1481.8,1097.2 1482.3,1097.4 1482.8,1097.6 1483.3,1097.4 1483.8,1097.2 1484.3,1097.5
1484.8,1098.0 1485.3,1098.3 1485.8,1098.4 1486.3,1098.3 1486.8,1098.2 1487.3,1098.3 1487.8,1098.3 1488.3,1098.6
1488.8,1099.6 1489.3,1100.2 1489.8,1099.5 1490.3,1098.4 1490.8,1097.7 1491.3,1097.6 1491.8,1097.9 1492.3,1098.1
1492.8,1097.9 1493.3,1097.8 1493.8,1097.9 1494.3,1097.7 1494.8,1097.3 1495.3,1097.1 1495.8,1097.3 1496.3,1097.6
1496.8,1097.7 1497.3,1097.7 1497.8,1097.6 1498.3,1097.4 1498.8,1097.3 1499.3,1097.5 1499.8,1097.9 1500.3,1097.9
1500.8,1097.5 1501.3,1097.3 1501.8,1097.5 1502.3,1097.7 1502.8,1097.8 1503.3,1097.9 1503.8,1097.7 1504.3,1097.8
1504.8,1098.1 1505.3,1098.3 1505.8,1098.1 1506.3,1098.0 1506.8,1098.2 1507.3,1098.4 1507.8,1098.2 1508.3,1097.5
1508.8,1097.2 1509.3,1097.5 1509.8,1098.1 1510.3,1098.3 1510.8,1098.0 1511.3,1097.5 1511.8,1096.8 1512.3,1095.9
1512.8,1095.4 1513.3,1095.5 1513.8,1095.9 1514.3,1096.1 1514.8,1096.4 1515.3,1096.4 1515.8,1096.0 1516.3,1096.0
1516.8,1096.2 1517.3,1096.2 1517.8,1095.9 1518.3,1095.6 1518.8,1095.4 1519.3,1095.0 1519.8,1094.3 1520.3,1093.4
1520.8,1092.5 1521.3,1091.8 1521.8,1091.6 1522.3,1092.0 1522.8,1092.4 1523.3,1092.3 1523.8,1091.7 1524.3,1091.0
1524.8,1090.6 1525.3,1090.3 1525.8,1090.0 1526.3,1089.8 1526.8,1089.8 1527.3,1090.2 1527.8,1090.1 1528.3,1088.8
1528.8,1087.2 1529.3,1085.9 1529.8,1085.0 1530.3,1084.4 1530.8,1083.8 1531.3,1082.6 1531.8,1081.1 1532.3,1080.0
1532.8,1079.5 1533.3,1079.4 1533.8,1078.7 1534.3,1077.2 1534.8,1075.6 1535.3,1074.0 1535.8,1072.7 1536.3,1071.5
1536.8,1070.6 1537.3,1069.4 1537.8,1067.9 1538.3,1066.6 1538.8,1065.6 1539.3,1065.0 1539.8,1064.6 1540.3,1064.2
1540.8,1064.6 1541.3,1065.9 1541.8,1067.7 1542.3,1069.4 1542.8,1070.8 1543.3,1072.0 1543.8,1073.3 1544.3,1074.6
1544.8,1076.1 1545.3,1077.5 1545.8,1078.9 1546.3,1080.2 1546.8,1081.4 1547.3,1082.3 1547.8,1083.2 1548.3,1084.3
1548.8,1085.6 1549.3,1087.1 1549.8,1088.3 1550.3,1089.3 1550.8,1090.2 1551.3,1091.0 1551.8,1091.0 1552.3,1090.7
1552.8,1091.5 1553.3,1093.1 1553.8,1094.1 1554.3,1094.3 1554.8,1094.5 1555.3,1094.7 1555.8,1094.6 1556.3,1094.5
1556.8,1094.8 1557.3,1095.1 1557.8,1095.0 1558.3,1094.8 1558.8,1094.6 1559.3,1094.6 1559.8,1095.3 1560.3,1096.3
1560.8,1096.8 1561.3,1097.0 1561.8,1097.1 1562.3,1096.9 1562.8,1096.1 1563.3,1095.1 1563.8,1094.3 1564.3,1094.1
1564.8,1095.2 1565.3,1096.9 1565.8,1097.8 1566.3,1097.7 1566.8,1097.5 1567.3,1097.7 1567.8,1097.6 1568.3,1097.0
1568.8,1096.6 1569.3,1096.8 1569.8,1097.3 1570.3,1097.7 1570.8,1097.8 1571.3,1097.6 1571.8,1097.2 1572.3,1097.0
1572.8,1097.0 1573.3,1097.3 1573.8,1097.7 1574.3,1097.6 1574.8,1097.2 1575.3,1097.2 1575.8,1097.7 1576.3,1098.5
1576.8,1099.0 1577.3,1098.7 1577.8,1098.4 1578.3,1098.6 1578.8,1099.2 1579.3,1099.6 1579.8,1099.7 1580.3,1099.3
1580.8,1099.0 1581.3,1099.2 1581.8,1099.7 1582.3,1100.1 1582.8,1100.0 1583.3,1099.5 1583.8,1098.9 1584.3,1098.5
1584.8,1098.1 1585.3,1097.7 1585.8,1097.7 1586.3,1098.2 1586.8,1098.5 1587.3,1098.6 1587.8,1098.6 1588.3,1098.4
1588.8,1098.0 1589.3,1097.5 1589.8,1097.1 1590.3,1097.4 1590.8,1097.8 1591.3,1098.0 1591.8,1098.7 1592.3,1099.9
1592.8,1100.7 1593.3,1100.4 1593.8,1099.8 1594.3,1099.5 1594.8,1099.4 1595.3,1099.0 1595.8,1098.0 1596.3,1097.2
1596.8,1097.0 1597.3,1097.7 1597.8,1098.5 1598.3,1098.8 1598.8,1098.7 1599.3,1098.8 1599.8,1098.8 1600.3,1098.5
1600.8,1098.0 1601.3,1098.1 1601.8,1098.4 1602.3,1098.2 1602.8,1097.6 1603.3,1097.4 1603.8,1097.7 1604.3,1098.1
1604.8,1098.3 1605.3,1098.1 1605.8,1098.0 1606.3,1098.2 1606.8,1098.2 1607.3,1098.1 1607.8,1098.1 1608.3,1098.0
1608.8,1097.8 1609.3,1097.8 1609.8,1097.9 1610.3,1098.0 1610.8,1098.4 1611.3,1098.8 1611.8,1098.8 1612.3,1098.6
1612.8,1098.8 1613.3,1099.4 1613.8,1100.1 1614.3,1100.3 1614.8,1100.1 1615.3,1099.1 1615.8,1097.5 1616.3,1096.4
1616.8,1096.3 1617.3,1096.8 1617.8,1097.2 1618.3,1097.8 1618.8,1098.0 1619.3,1097.8 1619.8,1097.8 1620.3,1098.1
1620.8,1098.3 1621.3,1098.4 1621.8,1098.7 1622.3,1099.2 1622.8,1099.5 1623.3,1099.6 1623.8,1099.7 1624.3,1099.4
1624.8,1098.9 1625.3,1098.7 1625.8,1098.8 1626.3,1099.0 1626.8,1099.1 1627.3,1099.2 1627.8,1099.0 1628.3,1098.6
1628.8,1098.6 1629.3,1099.0 1629.8,1099.5 1630.3,1099.8 1630.8,1100.1 1631.3,1100.4 1631.8,1100.3 1632.3,1099.3
1632.8,1098.0 1633.3,1097.5 1633.8,1097.9 1634.3,1098.4 1634.8,1098.8 1635.3,1099.3 1635.8,1099.7 1636.3,1099.4
1636.8,1098.7 1637.3,1098.1 1637.8,1097.9 1638.3,1098.0 1638.8,1098.5 1639.3,1099.3 1639.8,1100.4 1640.3,1101.2
1640.8,1101.1 1641.3,1100.1 1641.8,1098.9 1642.3,1098.5 1642.8,1098.7 1643.3,1098.7 1643.8,1098.6 1644.3,1098.8
1644.8,1099.5 1645.3,1099.8 1645.8,1099.4 1646.3,1098.7 1646.8,1098.4 1647.3,1097.8 1647.8,1096.9 1648.3,1096.5
1648.8,1096.7 1649.3,1097.0 1649.8,1097.0 1650.3,1096.8 1650.8,1096.9 1651.3,1097.1 1651.8,1097.0 1652.3,1097.0
1652.8,1097.3 1653.3,1097.6 1653.8,1097.5 1654.3,1097.3 1654.8,1097.5 1655.3,1097.9 1655.8,1097.9 1656.3,1097.8
1656.8,1097.9 1657.3,1098.1 1657.8,1098.3 1658.3,1098.0 1658.8,1097.6 1659.3,1097.4 1659.8,1097.7 1660.3,1097.8
1660.8,1097.3 1661.3,1096.9 1661.8,1097.3 1662.3,1098.1 1662.8,1098.5 1663.3,1098.1 1663.8,1097.7 1664.3,1097.5
1664.8,1097.3 1665.3,1097.2 1665.8,1097.4 1666.3,1097.8 1666.8,1097.9 1667.3,1097.5 1667.8,1097.1 1668.3,1097.2
1668.8,1098.0 1669.3,1099.0 1669.8,1099.7 1670.3,1099.8 1670.8,1099.3 1671.3,1098.4 1671.8,1097.5 1672.3,1097.1
1672.8,1097.3 1673.3,1097.7 1673.8,1098.0 1674.3,1098.0 1674.8,1097.6 1675.3,1097.3 1675.8,1097.5 1676.3,1097.9
1676.8,1098.2 1677.3,1098.4 1677.8,1098.4 1678.3,1098.9 1678.8,1099.4 1679.3,1099.2 1679.8,1098.2 1680.3,1097.5
1680.8,1097.7 1681.3,1098.6 1681.8,1099.5 1682.3,1099.7 1682.8,1098.9 1683.3,1098.1 1683.8,1097.6 1684.3,1097.3
1684.8,1097.1 1685.3,1097.4 1685.8,1098.0 1686.3,1098.5 1686.8,1098.5 1687.3,1098.1 1687.8,1097.7 1688.3,1097.0
1688.8,1096.4 1689.3,1096.4 1689.8,1096.9 1690.3,1096.8 1690.8,1096.2 1691.3,1096.1 1691.8,1096.6 1692.3,1097.6
1692.8,1098.6 1693.3,1099.1 1693.8,1099.2 1694.3,1098.9 1694.8,1099.0 1695.3,1099.7 1695.8,1100.5 1696.3,1101.1
1696.8,1101.1 1697.3,1100.5 1697.8,1099.3 1698.3,1098.1 1698.8,1097.9 1699.3,1098.5 1699.8,1099.1 1700.3,1099.4
1700.8,1099.8 1701.3,1100.5 1701.8,1101.0 1702.3,1100.8 1702.8,1100.5 1703.3,1100.2 1703.8,1099.9 1704.3,1099.4
1704.8,1098.9 1705.3,1098.6 1705.8,1098.2 1706.3,1098.0 1706.8,1098.3 1707.3,1098.6 1707.8,1098.7 1708.3,1098.7
1708.8,1098.9 1709.3,1098.8 1709.8,1098.7 1710.3,1098.9 1710.8,1099.1 1711.3,1098.6 1711.8,1097.8 1712.3,1097.4
1712.8,1097.7 1713.3,1098.4 1713.8,1098.8 1714.3,1098.4 1714.8,1097.9 1715.3,1097.6 1715.8,1096.9 1716.3,1096.4
1716.8,1096.4 1717.3,1096.5 1717.8,1096.4 1718.3,1096.3 1718.8,1096.6 1719.3,1097.1 1719.8,1097.1 1720.3,1096.9
1720.8,1096.8 1721.3,1097.1 1721.8,1097.4 1722.3,1097.4 1722.8,1097.4 1723.3,1097.6 1723.8,1097.7 1724.3,1097.7
1724.8,1097.7 1725.3,1097.9 1725.8,1098.1 1726.3,1098.4 1726.8,1098.7 1727.3,1098.7 1727.8,1098.4 1728.3,1097.7
1728.8,1097.0 1729.3,1096.2 1729.8,1095.5 1730.3,1095.7 1730.8,1096.8 1731.3,1098.4 1731.8,1099.5 1732.3,1099.9
1732.8,1099.6 1733.3,1099.3 1733.8,1099.4 1734.3,1099.6 1734.8,1099.5 1735.3,1098.9 1735.8,1098.1 1736.3,1097.3
1736.8,1096.8 1737.3,1096.9 1737.8,1097.4 1738.3,1097.7 1738.8,1097.7 1739.3,1098.0 1739.8,1098.6 1740.3,1099.3
1740.8,1099.5 1741.3,1098.7 1741.8,1097.7 1742.3,1097.6 1742.8,1098.1 1743.3,1098.1 1743.8,1097.5 1744.3,1096.9
1744.8,1096.4 1745.3,1096.2 1745.8,1096.3 1746.3,1096.6 1746.8,1097.2 1747.3,1097.8 1747.8,1097.7 1748.3,1097.0
1748.8,1096.2 1749.3,1095.6 1749.8,1095.8 1750.3,1096.5 1750.8,1096.8 1751.3,1096.6 1751.8,1096.3 1752.3,1095.8
1752.8,1095.2 1753.3,1094.7 1753.8,1094.6 1754.3,1094.2 1754.8,1093.4 1755.3,1093.0 1755.8,1093.9 1756.3,1095.4
1756.8,1096.0 1757.3,1095.4 1757.8,1094.7 1758.3,1094.6 1758.8,1094.4 1759.3,1094.0 1759.8,1093.8 1760.3,1094.1
1760.8,1094.7 1761.3,1095.3 1761.8,1095.6 1762.3,1095.2 1762.8,1094.5 1763.3,1093.9 1763.8,1093.5 1764.3,1093.4
1764.8,1093.7 1765.3,1093.6 1765.8,1093.0 1766.3,1092.4 1766.8,1092.0 1767.3,1091.4 1767.8,1090.6 1768.3,1090.1
1768.8,1090.4 1769.3,1091.0 1769.8,1091.0 1770.3,1090.0 1770.8,1088.6 1771.3,1087.0 1771.8,1085.8 1772.3,1085.3
1772.8,1085.5 1773.3,1085.6 1773.8,1085.7 1774.3,1085.8 1774.8,1085.2 1775.3,1083.9 1775.8,1082.6 1776.3,1081.6
1776.8,1080.6 1777.3,1079.5 1777.8,1078.9 1778.3,1078.8 1778.8,1078.4 1779.3,1077.6 1779.8,1076.7 1780.3,1075.6
1780.8,1074.1 1781.3,1072.8 1781.8,1071.7 1782.3,1070.6 1782.8,1069.1 1783.3,1067.3 1783.8,1065.5 1784.3,1064.0
1784.8,1063.7 1785.3,1064.4 1785.8,1065.4 1786.3,1066.5 1786.8,1067.6 1787.3,1068.7 1787.8,1069.6 1788.3,1070.6
1788.8,1071.8 1789.3,1072.9 1789.8,1073.9 1790.3,1074.9 1790.8,1076.1 1791.3,1077.3 1791.8,1078.5 1792.3,1079.9
1792.8,1081.3 1793.3,1082.0 1793.8,1082.2 1794.3,1082.9 1794.8,1084.5 1795.3,1086.5 1795.8,1088.1 1796.3,1089.0
1796.8,1089.2 1797.3,1089.0 1797.8,1089.2 1798.3,1089.8 1798.8,1090.7 1799.3,1091.4 1799.8,1091.7 1800.3,1091.7
1800.8,1092.2 1801.3,1092.8 1801.8,1093.5 1802.3,1094.4 1802.8,1095.2 1803.3,1095.5 1803.8,1095.7 1804.3,1095.8
1804.8,1095.7 1805.3,1095.6 1805.8,1096.0 1806.3,1096.8 1806.8,1097.3 1807.3,1097.3 1807.8,1096.7 1808.3,1096.3
1808.8,1096.3 1809.3,1096.7 1809.8,1097.2 1810.3,1097.5 1810.8,1097.0 1811.3,1095.8 1811.8,1095.4 1812.3,1096.4
1812.8,1097.8 1813.3,1098.5 1813.8,1098.5 1814.3,1098.4 1814.8,1098.1 1815.3,1097.8 1815.8,1097.9 1816.3,1098.3
1816.8,1098.8 1817.3,1099.0 1817.8,1099.0 1818.3,1099.0 1818.8,1099.1 1819.3,1099.1 1819.8,1099.2 1820.3,1099.2
1820.8,1099.3 1821.3,1099.3 1821.8,1099.3 1822.3,1099.4 1822.8,1099.4 1823.3,1099.4 1823.8,1099.4"/>
<polyline id="c-ground" points="137.3,343.9 137.8,343.9 138.3,343.9 138.8,343.9 139.3,343.9 139.8,343.9 140.3,343.9 140.8,343.9 141.3,343.9 141.8,343.9
142.3,343.9 142.8,343.9 143.3,343.9 143.8,343.9 144.3,343.9 144.8,343.9 145.3,343.8 145.8,343.8 146.3,343.7 146.8,343.9
147.3,343.4 147.8,343.9 148.3,344.4 148.8,343.5 149.3,343.9 149.8,345.3 150.3,343.4 150.8,343.1 151.3,343.7 151.8,344.8
152.3,345.0 152.8,343.3 153.3,344.3 153.8,344.0 154.3,343.7 154.8,343.0 155.3,344.5 155.8,343.6 156.3,344.2 156.8,344.1
157.3,345.0 157.8,344.7 158.3,343.5 158.8,343.9 159.3,344.6 159.8,343.4 160.3,343.8 160.8,344.1 161.3,343.1 161.8,343.3
162.3,343.0 162.8,344.0 163.3,343.5 163.8,344.2 164.3,343.8 164.8,344.0 165.3,343.7 165.8,344.1 166.3,343.6 166.8,343.2
167.3,344.3 167.8,344.2 168.3,344.9 168.8,343.8 169.3,343.6 169.8,343.2 170.3,342.0 170.8,343.3 171.3,344.3 171.8,343.6
172.3,342.8 172.8,344.4 173.3,343.8 173.8,344.0 174.3,343.9 174.8,344.1 175.3,344.4 175.8,343.2 176.3,344.0 176.8,343.8
177.3,344.6 177.8,343.5 178.3,344.9 178.8,344.4 179.3,344.9 179.8,343.7 180.3,344.5 180.8,344.2 181.3,343.3 181.8,343.9
182.3,343.8 182.8,343.6 183.3,343.7 183.8,343.4 184.3,343.8 184.8,344.2 185.3,343.7 185.8,343.3 186.3,344.6 186.8,343.9
187.3,344.1 187.8,344.0 188.3,343.8 188.8,344.4 189.3,343.8 189.8,344.1 190.3,343.4 190.8,343.3 191.3,343.9 191.8,345.1
192.3,344.2 192.8,345.1 193.3,344.4 193.8,344.4 194.3,343.9 194.8,344.2 195.3,345.1 195.8,344.8 196.3,343.9 196.8,344.0
197.3,344.9 197.8,344.0 198.3,344.7 198.8,343.8 199.3,344.5 199.8,345.0 200.3,344.6 200.8,344.3 201.3,344.2 201.8,344.0
202.3,344.0 202.8,344.6 203.3,344.5 203.8,344.2 204.3,343.3 204.8,343.7 205.3,344.1 205.8,343.9 206.3,343.2 206.8,344.3
207.3,345.2 207.8,343.3 208.3,344.0 208.8,344.8 209.3,343.8 209.8,343.8 210.3,344.1 210.8,344.4 211.3,343.9 211.8,344.6
212.3,343.2 212.8,344.5 213.3,344.4 213.8,344.1 214.3,344.4 214.8,344.3 215.3,344.9 215.8,344.1 216.3,344.3 216.8,343.7
217.3,343.8 217.8,344.3 218.3,343.7 218.8,344.1 219.3,343.9 219.8,344.3 220.3,344.7 220.8,345.1 221.3,343.7 221.8,344.5
222.3,345.0 222.8,345.3 223.3,345.2 223.8,343.8 224.3,344.2 224.8,344.7 225.3,344.8 225.8,344.4 226.3,344.3 226.8,344.2
227.3,343.7 227.8,344.0 228.3,344.3 228.8,343.7 229.3,344.4 229.8,342.3 230.3,343.5 230.8,344.5 231.3,344.1 231.8,344.3
232.3,343.7 232.8,343.0 233.3,343.3 233.8,344.3 234.3,342.6 234.8,343.1 235.3,342.7 235.8,343.3 236.3,343.4 236.8,343.9
237.3,343.3 237.8,344.5 238.3,344.0 238.8,343.5 239.3,343.3 239.8,343.0 240.3,343.9 240.8,344.8 241.3,343.8 241.8,343.4
242.3,343.9 242.8,343.7 243.3,343.5 243.8,343.0 244.3,343.9 244.8,344.7 245.3,344.6 245.8,344.4 246.3,344.1 246.8,344.2
247.3,344.5 247.8,343.9 248.3,344.1 248.8,343.7 249.3,344.5 249.8,343.4 250.3,344.2 250.8,344.3 251.3,344.3 251.8,344.2
252.3,343.6 252.8,343.5 253.3,343.5 253.8,343.5 254.3,343.1 254.8,343.4 255.3,343.3 255.8,343.1 256.3,343.8 256.8,343.2
257.3,343.6 257.8,344.2 258.3,344.3 258.8,343.5 259.3,343.9 259.8,343.5 260.3,344.6 260.8,344.2 261.3,344.0 261.8,343.3
262.3,343.3 262.8,343.8 263.3,343.5 263.8,343.4 264.3,344.0 264.8,343.0 265.3,342.7 265.8,343.3 266.3,343.2 266.8,343.8
267.3,343.5 267.8,343.9 268.3,343.0 268.8,344.8 269.3,344.3 269.8,343.7 270.3,344.3 270.8,344.8 271.3,344.6 271.8,344.1
272.3,344.5 272.8,344.7 273.3,343.6 273.8,343.5 274.3,343.9 274.8,344.7 275.3,345.0 275.8,344.3 276.3,345.0 276.8,344.7
277.3,344.2 277.8,343.8 278.3,343.8 278.8,344.2 279.3,344.8 279.8,344.5 280.3,343.4 280.8,343.4 281.3,344.4 281.8,344.1
282.3,343.5 282.8,344.3 283.3,344.6 283.8,344.3 284.3,343.9 284.8,344.6 285.3,343.7 285.8,343.6 286.3,343.4 286.8,344.9
287.3,345.0 287.8,344.0 288.3,344.3 288.8,344.3 289.3,344.6 289.8,344.8 290.3,344.6 290.8,344.2 291.3,344.1 291.8,343.9
292.3,343.2 292.8,344.5 293.3,344.2 293.8,344.7 294.3,344.6 294.8,344.2 295.3,344.5 295.8,344.9 296.3,344.8 296.8,344.3
297.3,344.3 297.8,344.9 298.3,344.7 298.8,344.7 299.3,344.4 299.8,344.7 300.3,344.3 300.8,345.5 301.3,343.9 301.8,343.7
302.3,344.8 302.8,343.9 303.3,343.4 303.8,344.0 304.3,342.6 304.8,343.9 305.3,343.7 305.8,343.8 306.3,343.2 306.8,344.3
307.3,343.8 307.8,343.6 308.3,343.8 308.8,343.2 309.3,343.5 309.8,342.8 310.3,343.0 310.8,343.7 311.3,343.6 311.8,344.0
312.3,343.3 312.8,343.5 313.3,343.3 313.8,343.8 314.3,344.0 314.8,344.2 315.3,344.0 315.8,343.4 316.3,343.9 316.8,343.3
317.3,342.9 317.8,344.0 318.3,344.0 318.8,344.4 319.3,344.4 319.8,343.5 320.3,343.6 320.8,344.1 321.3,344.2 321.8,344.4
322.3,343.5 322.8,344.1 323.3,344.5 323.8,345.2 324.3,343.6 324.8,345.1 325.3,344.1 325.8,343.5 326.3,344.9 326.8,343.8
327.3,343.7 327.8,344.7 328.3,344.8 328.8,344.3 329.3,343.9 329.8,343.5 330.3,344.3 330.8,343.0 331.3,343.4 331.8,344.6
332.3,344.4 332.8,344.6 333.3,344.2 333.8,343.4 334.3,344.1 334.8,343.0 335.3,344.2 335.8,344.5 336.3,343.3 336.8,344.3
337.3,343.9 337.8,343.8 338.3,342.9 338.8,343.8 339.3,344.3 339.8,343.1 340.3,343.7 340.8,343.6 341.3,343.2 341.8,344.5
342.3,344.0 342.8,344.0 343.3,344.5 343.8,343.7 344.3,345.7 344.8,343.8 345.3,343.5 345.8,344.4 346.3,344.3 346.8,343.6
347.3,343.7 347.8,344.6 348.3,344.3 348.8,344.4 349.3,344.7 349.8,344.0 350.3,344.9 350.8,344.3 351.3,344.7 351.8,343.9
352.3,344.7 352.8,344.5 353.3,345.6 353.8,344.3 354.3,345.1 354.8,344.6 355.3,345.0 355.8,344.3 356.3,344.4 356.8,343.0
357.3,343.4 357.8,344.5 358.3,344.2 358.8,344.3 359.3,343.7 359.8,344.2 360.3,343.6 360.8,343.7 361.3,344.3 361.8,344.2
362.3,343.4 362.8,343.6 363.3,343.7 363.8,343.5 364.3,343.6 364.8,343.1 365.3,343.9 365.8,343.1 366.3,343.2 366.8,344.3
367.3,344.6 367.8,344.6 368.3,343.9 368.8,343.4 369.3,344.1 369.8,344.5 370.3,343.8 370.8,343.5 371.3,342.9 371.8,342.9
372.3,344.6 372.8,343.0 373.3,343.4 373.8,343.5 374.3,343.8 374.8,343.1 375.3,344.0 375.8,344.0 376.3,343.8 376.8,343.4
377.3,343.6 377.8,342.8 378.3,344.1 378.8,343.5 379.3,343.1 379.8,343.8 380.3,344.1 380.8,344.1 381.3,344.2 381.8,344.5
382.3,343.7 382.8,344.1 383.3,344.1 383.8,343.3 384.3,344.6 384.8,343.9 385.3,344.3 385.8,344.3 386.3,343.8 386.8,344.7
387.3,344.8 387.8,344.4 388.3,342.9 388.8,345.0 389.3,344.3 389.8,344.1 390.3,344.1 390.8,343.9 391.3,344.2 391.8,344.7
392.3,343.8 392.8,344.4 393.3,344.0 393.8,344.1 394.3,344.0 394.8,344.3 395.3,344.6 395.8,344.1 396.3,344.5 396.8,344.8
397.3,343.3 397.8,344.4 398.3,343.8 398.8,343.8 399.3,344.4 399.8,343.8 400.3,343.6 400.8,344.5 401.3,344.4 401.8,344.1
402.3,345.3 402.8,343.4 403.3,343.1 403.8,343.8 404.3,343.4 404.8,344.2 405.3,343.7 405.8,343.7 406.3,344.0 406.8,343.6
407.3,343.1 407.8,343.8 408.3,344.5 408.8,344.3 409.3,344.7 409.8,345.0 410.3,344.7 410.8,344.2 411.3,343.9 411.8,344.5
412.3,345.0 412.8,344.9 413.3,344.7 413.8,343.8 414.3,344.4 414.8,344.5 415.3,344.7 415.8,343.4 416.3,343.6 416.8,344.0
417.3,343.9 417.8,343.5 418.3,344.0 418.8,343.6 419.3,344.2 419.8,343.4 420.3,343.7 420.8,342.5 421.3,343.6 421.8,343.2
422.3,343.9 422.8,343.4 423.3,344.1 423.8,343.3 424.3,342.9 424.8,343.7 425.3,344.0 425.8,343.3 426.3,343.1 426.8,344.2
427.3,344.4 427.8,344.3 428.3,344.0 428.8,344.0 429.3,344.8 429.8,344.4 430.3,343.6 430.8,343.5 431.3,344.4 431.8,344.4
432.3,343.7 432.8,343.6 433.3,344.5 433.8,343.8 434.3,344.4 434.8,343.4 435.3,343.4 435.8,343.0 436.3,343.8 436.8,343.6
437.3,343.0 437.8,343.9 438.3,343.5 438.8,343.7 439.3,344.5 439.8,344.3 440.3,344.0 440.8,343.6 441.3,343.2 441.8,343.4
442.3,343.6 442.8,344.4 443.3,343.3 443.8,343.5 444.3,343.7 444.8,343.9 445.3,344.2 445.8,344.3 446.3,343.6 446.8,344.6
447.3,343.9 447.8,343.2 448.3,343.0 448.8,343.3 449.3,343.4 449.8,343.9 450.3,343.1 450.8,343.2 451.3,343.1 451.8,343.7
452.3,342.8 452.8,343.9 453.3,343.3 453.8,343.6 454.3,344.0 454.8,344.0 455.3,345.3 455.8,343.5 456.3,343.0 456.8,343.5
457.3,344.6 457.8,343.7 458.3,344.9 458.8,344.3 459.3,344.8 459.8,343.8 460.3,345.1 460.8,345.2 461.3,344.2 461.8,345.3
462.3,346.0 462.8,344.7 463.3,344.3 463.8,344.5 464.3,344.6 464.8,345.2 465.3,345.6 465.8,344.5 466.3,344.5 466.8,343.9
467.3,344.3 467.8,344.7 468.3,343.4 468.8,344.7 469.3,344.7 469.8,344.8 470.3,343.9 470.8,343.3 471.3,343.9 471.8,343.4
472.3,343.0 472.8,343.5 473.3,343.1 473.8,344.8 474.3,344.1 474.8,344.2 475.3,343.2 475.8,344.4 476.3,343.5 476.8,344.1
477.3,343.2 477.8,344.0 478.3,342.9 478.8,343.6 479.3,343.6 479.8,343.0 480.3,343.7 480.8,343.4 481.3,343.5 481.8,344.1
482.3,344.4 482.8,343.7 483.3,344.4 483.8,344.3 484.3,344.2 484.8,344.6 485.3,343.1 485.8,344.5 486.3,344.0 486.8,343.7
487.3,343.8 487.8,344.4 488.3,344.4 488.8,344.2 489.3,343.2 489.8,343.0 490.3,343.8 490.8,344.0 491.3,343.3 491.8,344.1
492.3,343.9 492.8,343.8 493.3,343.1 493.8,344.1 494.3,343.9 494.8,344.0 495.3,343.5 495.8,342.7 496.3,343.5 496.8,343.7
497.3,343.2 497.8,342.7 498.3,343.6 498.8,343.6 499.3,342.7 499.8,342.9 500.3,342.5 500.8,343.4 501.3,343.2 501.8,343.9
502.3,342.5 502.8,343.6 503.3,342.7 503.8,342.8 504.3,341.9 504.8,342.4 505.3,341.9 505.8,341.9 506.3,341.9 506.8,341.9
507.3,341.8 507.8,341.2 508.3,340.5 508.8,341.2 509.3,340.5 509.8,339.9 510.3,340.6 510.8,339.7 511.3,339.6 511.8,338.2
512.3,338.3 512.8,339.2 513.3,338.1 513.8,337.7 514.3,336.7 514.8,336.5 515.3,336.1 515.8,335.3 516.3,334.7 516.8,333.3
517.3,332.9 517.8,332.3 518.3,331.7 518.8,330.7 519.3,329.4 519.8,327.9 520.3,326.6 520.8,325.3 521.3,323.3 521.8,321.7
522.3,319.4 522.8,316.9 523.3,314.0 523.8,310.5 524.3,306.5 524.8,301.5 525.3,296.0 525.8,290.0 526.3,283.4 526.8,276.7
527.3,267.7 527.8,258.9 528.3,255.9 528.8,259.0 529.3,267.7 529.8,276.7 530.3,283.5 530.8,289.9 531.3,296.0 531.8,301.5
532.3,306.6 532.8,310.6 533.3,313.9 533.8,316.9 534.3,319.7 534.8,321.9 535.3,323.5 535.8,325.4 536.3,326.5 536.8,328.4
537.3,329.2 537.8,330.6 538.3,331.6 538.8,331.6 539.3,333.7 539.8,334.2 540.3,334.7 540.8,335.4 541.3,336.3 541.8,336.8
542.3,337.6 542.8,338.0 543.3,338.6 543.8,338.8 544.3,338.4 544.8,338.7 545.3,339.9 545.8,340.2 546.3,340.2 546.8,339.8
547.3,340.3 547.8,340.5 548.3,341.3 548.8,340.8 549.3,340.6 549.8,341.0 550.3,341.7 550.8,342.5 551.3,341.6 551.8,342.5
552.3,341.9 552.8,342.1 553.3,342.0 553.8,342.9 554.3,342.4 554.8,343.3 555.3,342.7 555.8,343.9 556.3,343.2 556.8,343.2
557.3,342.6 557.8,343.8 558.3,343.4 558.8,343.2 559.3,343.2 559.8,342.9 560.3,342.9 560.8,343.4 561.3,342.8 561.8,343.1
562.3,344.3 562.8,343.1 563.3,343.1 563.8,343.6 564.3,342.7 564.8,343.9 565.3,343.2 565.8,342.6 566.3,343.1 566.8,342.9
567.3,343.5 567.8,343.0 568.3,343.6 568.8,342.2 569.3,343.0 569.8,343.5 570.3,343.5 570.8,343.3 571.3,343.6 571.8,343.6
572.3,343.3 572.8,343.4 573.3,343.7 573.8,343.3 574.3,342.0 574.8,342.5 575.3,342.9 575.8,343.6 576.3,343.2 576.8,343.5
577.3,343.7 577.8,343.4 578.3,342.7 578.8,343.6 579.3,342.5 579.8,342.5 580.3,342.9 580.8,342.0 581.3,344.0 581.8,344.3
582.3,343.1 582.8,343.0 583.3,342.1 583.8,343.5 584.3,342.9 584.8,342.6 585.3,342.6 585.8,343.2 586.3,343.2 586.8,343.2
587.3,343.0 587.8,342.5 588.3,344.1 588.8,343.8 589.3,343.1 589.8,342.7 590.3,342.9 590.8,343.8 591.3,343.7 591.8,343.6
592.3,344.1 592.8,343.2 593.3,344.2 593.8,343.6 594.3,343.2 594.8,343.8 595.3,343.8 595.8,343.3 596.3,344.5 596.8,342.8
597.3,343.8 597.8,343.8 598.3,343.3 598.8,343.7 599.3,344.3 599.8,343.1 600.3,343.1 600.8,343.4 601.3,343.8 601.8,344.1
602.3,343.9 602.8,343.0 603.3,344.1 603.8,343.9 604.3,344.0 604.8,342.7 605.3,342.7 605.8,343.2 606.3,343.3 606.8,343.5
607.3,342.9 607.8,342.9 608.3,343.7 608.8,342.4 609.3,342.8 609.8,343.4 610.3,343.8 610.8,343.5 611.3,344.1 611.8,343.5
612.3,343.6 612.8,343.7 613.3,343.3 613.8,342.6 614.3,343.1 614.8,343.1 615.3,342.7 615.8,343.5 616.3,342.9 616.8,342.4
617.3,343.2 617.8,342.7 618.3,343.5 618.8,341.9 619.3,342.4 619.8,343.3 620.3,343.4 620.8,343.4 621.3,344.1 621.8,343.3
622.3,343.2 622.8,343.9 623.3,343.4 623.8,343.8 624.3,344.2 624.8,343.5 625.3,343.6 625.8,343.3 626.3,343.8 626.8,343.9
627.3,344.1 627.8,343.9 628.3,344.5 628.8,343.6 629.3,343.5 629.8,343.3 630.3,344.0 630.8,343.3 631.3,343.1 631.8,342.6
632.3,343.1 632.8,343.6 633.3,341.8 633.8,342.5 634.3,342.6 634.8,342.6 635.3,343.0 635.8,342.8 636.3,343.0 636.8,343.1
637.3,343.6 637.8,342.8 638.3,343.1 638.8,342.8 639.3,343.0 639.8,342.8 640.3,342.4 640.8,343.2 641.3,343.6 641.8,342.6
642.3,343.1 642.8,343.2 643.3,342.2 643.8,344.3 644.3,344.1 644.8,344.0 645.3,344.0 645.8,343.1 646.3,342.4 646.8,343.6
647.3,343.7 647.8,343.5 648.3,343.5 648.8,344.2 649.3,344.1 649.8,343.7 650.3,343.5 650.8,344.9 651.3,344.2 651.8,343.8
652.3,343.1 652.8,343.0 653.3,342.4 653.8,343.6 654.3,343.9 654.8,343.7 655.3,343.8 655.8,343.9 656.3,344.3 656.8,343.0
657.3,343.3 657.8,344.3 658.3,344.1 658.8,344.2 659.3,343.4 659.8,344.7 660.3,344.0 660.8,343.8 661.3,343.4 661.8,343.9
662.3,343.9 662.8,343.7 663.3,344.6 663.8,344.3 664.3,343.7 664.8,343.4 665.3,343.5 665.8,343.9 666.3,342.3 666.8,343.8
667.3,343.6 667.8,344.7 668.3,343.9 668.8,343.6 669.3,343.7 669.8,343.4 670.3,343.3 670.8,343.6 671.3,342.7 671.8,343.7
672.3,342.8 672.8,343.3 673.3,343.3 673.8,344.0 674.3,344.4 674.8,344.4 675.3,343.4 675.8,343.5 676.3,343.7 676.8,343.7
677.3,344.2 677.8,344.0 678.3,343.6 678.8,344.6 679.3,344.0 679.8,344.5 680.3,343.5 680.8,343.8 681.3,343.6 681.8,343.5
682.3,342.9 682.8,343.5 683.3,342.6 683.8,343.5 684.3,344.2 684.8,343.8 685.3,343.4 685.8,343.1 686.3,343.6 686.8,342.7
687.3,342.7 687.8,342.7 688.3,343.5 688.8,342.7 689.3,343.7 689.8,344.0 690.3,343.9 690.8,343.5 691.3,343.9 691.8,343.1
692.3,343.9 692.8,344.7 693.3,344.6 693.8,343.1 694.3,343.9 694.8,343.8 695.3,344.5 695.8,344.2 696.3,344.0 696.8,343.7
697.3,344.1 697.8,344.0 698.3,344.1 698.8,343.9 699.3,343.4 699.8,344.1 700.3,344.1 700.8,344.0 701.3,344.0 701.8,344.4
702.3,344.3 702.8,344.6 703.3,344.1 703.8,344.1 704.3,343.7 704.8,343.1 705.3,343.0 705.8,343.8 706.3,343.6 706.8,343.7
707.3,342.3 707.8,343.3 708.3,343.4 708.8,343.1 709.3,343.1 709.8,342.3 710.3,343.1 710.8,343.8 711.3,342.6 711.8,343.4
712.3,342.8 712.8,343.2 713.3,343.8 713.8,343.2 714.3,343.4 714.8,343.5 715.3,343.2 715.8,343.9 716.3,342.3 716.8,343.2
717.3,342.5 717.8,342.7 718.3,343.5 718.8,342.9 719.3,343.4 719.8,344.3 720.3,343.9 720.8,345.5 721.3,343.6 721.8,343.7
722.3,342.4 722.8,343.6 723.3,343.4 723.8,343.9 724.3,343.6 724.8,343.2 725.3,342.5 725.8,343.8 726.3,343.1 726.8,342.5
727.3,343.5 727.8,342.3 728.3,342.9 728.8,342.2 729.3,343.0 729.8,342.3 730.3,344.5 730.8,343.6 731.3,343.2 731.8,343.1
732.3,343.3 732.8,343.3 733.3,343.0 733.8,342.3 734.3,343.0 734.8,342.1 735.3,342.7 735.8,343.1 736.3,342.3 736.8,343.1
737.3,342.6 737.8,344.1 738.3,342.7 738.8,343.2 739.3,343.3 739.8,343.1 740.3,343.3 740.8,343.0 741.3,343.3 741.8,343.4
742.3,343.8 742.8,344.1 743.3,343.5 743.8,344.2 744.3,343.6 744.8,343.2 745.3,343.4 745.8,343.3 746.3,343.6 746.8,343.7
747.3,343.8 747.8,344.3 748.3,344.1 748.8,343.5 749.3,343.9 749.8,343.6 750.3,344.0 750.8,344.2 751.3,343.5 751.8,343.9
752.3,344.2 752.8,343.7 753.3,342.9 753.8,343.4 754.3,343.0 754.8,344.0 755.3,343.6 755.8,343.7 756.3,344.4 756.8,343.9
757.3,343.6 757.8,342.7 758.3,343.4 758.8,343.3 759.3,343.6 759.8,343.1 760.3,344.1 760.8,344.4 761.3,343.6 761.8,343.1
762.3,343.9 762.8,343.8 763.3,344.4 763.8,344.0 764.3,343.6 764.8,343.4 765.3,344.1 765.8,343.0 766.3,343.6 766.8,344.6
767.3,344.2 767.8,344.2 768.3,344.2 768.8,343.6 769.3,344.1 769.8,344.5 770.3,344.6 770.8,343.8 771.3,344.3 771.8,344.7
772.3,344.3 772.8,344.9 773.3,344.2 773.8,343.3 774.3,344.1 774.8,344.1 775.3,344.3 775.8,344.2 776.3,344.7 776.8,344.2
777.3,344.0 777.8,343.6 778.3,343.7 778.8,344.5 779.3,344.8 779.8,344.0 780.3,343.9 780.8,343.7 781.3,343.9 781.8,343.8
782.3,343.5 782.8,344.2 783.3,343.2 783.8,343.8 784.3,343.8 784.8,344.0 785.3,343.5 785.8,343.1 786.3,343.5 786.8,343.0
787.3,343.3 787.8,343.0 788.3,344.6 788.8,342.2 789.3,342.7 789.8,343.9 790.3,343.1 790.8,342.5 791.3,343.5 791.8,344.3
792.3,343.2 792.8,343.6 793.3,342.5 793.8,342.9 794.3,343.3 794.8,343.3 795.3,342.9 795.8,342.9 796.3,342.9 796.8,342.8
797.3,342.9 797.8,342.9 798.3,343.4 798.8,342.5 799.3,343.5 799.8,344.1 800.3,343.3 800.8,343.0 801.3,342.8 801.8,343.0
802.3,342.7 802.8,343.4 803.3,343.2 803.8,343.6 804.3,343.4 804.8,343.6 805.3,344.0 805.8,343.7 806.3,344.5 806.8,343.7
807.3,342.9 807.8,343.4 808.3,343.5 808.8,343.2 809.3,343.5 809.8,343.4 810.3,343.8 810.8,343.1 811.3,342.7 811.8,343.0
812.3,342.3 812.8,342.0 813.3,342.9 813.8,343.2 814.3,343.2 814.8,344.2 815.3,343.1 815.8,343.1 816.3,344.8 816.8,343.0
817.3,344.2 817.8,343.8 818.3,342.6 818.8,344.4 819.3,343.7 819.8,344.0 820.3,343.9 820.8,343.9 821.3,344.2 821.8,344.8
822.3,343.8 822.8,343.5 823.3,344.0 823.8,343.8 824.3,342.3 824.8,343.8 825.3,343.4 825.8,343.5 826.3,342.9 826.8,344.6
827.3,344.0 827.8,343.5 828.3,343.6 828.8,343.8 829.3,343.9 829.8,344.3 830.3,344.2 830.8,343.7 831.3,343.9 831.8,344.3
832.3,343.5 832.8,343.8 833.3,344.4 833.8,343.9 834.3,344.6 834.8,343.3 835.3,343.6 835.8,343.4 836.3,343.4 836.8,344.2
837.3,344.3 837.8,343.8 838.3,343.6 838.8,344.6 839.3,344.4 839.8,342.6 840.3,343.5 840.8,342.5 841.3,342.7 841.8,343.1
842.3,342.8 842.8,343.7 843.3,343.1 843.8,343.2 844.3,343.2 844.8,344.1 845.3,343.3 845.8,343.6 846.3,343.4 846.8,343.7
847.3,343.2 847.8,343.1 848.3,343.8 848.8,343.2 849.3,342.3 849.8,342.5 850.3,342.9 850.8,343.4 851.3,342.8 851.8,343.9
852.3,343.4 852.8,343.1 853.3,342.6 853.8,343.6 854.3,343.6 854.8,342.7 855.3,343.9 855.8,343.9 856.3,344.0 856.8,343.3
857.3,343.8 857.8,342.3 858.3,343.5 858.8,343.1 859.3,343.2 859.8,343.4 860.3,342.8 860.8,343.0 861.3,342.6 861.8,342.6
862.3,342.4 862.8,343.1 863.3,343.5 863.8,342.4 864.3,342.1 864.8,342.7 865.3,343.0 865.8,342.9 866.3,342.2 866.8,342.8
867.3,342.5 867.8,342.7 868.3,342.9 868.8,342.8 869.3,343.3 869.8,342.9 870.3,343.9 870.8,343.3 871.3,342.8 871.8,343.9
872.3,343.9 872.8,343.7 873.3,343.6 873.8,343.8 874.3,344.1 874.8,343.7 875.3,344.2 875.8,343.5 876.3,344.1 876.8,343.3
877.3,344.0 877.8,344.1 878.3,343.5 878.8,343.9 879.3,342.8 879.8,343.6 880.3,343.5 880.8,343.9 881.3,343.5 881.8,344.0
882.3,344.4 882.8,343.5 883.3,343.9 883.8,344.3 884.3,343.9 884.8,344.0 885.3,343.4 885.8,343.7 886.3,343.1 886.8,344.0
887.3,343.8 887.8,343.9 888.3,342.8 888.8,344.2 889.3,344.5 889.8,344.5 890.3,344.0 890.8,344.4 891.3,343.8 891.8,343.5
892.3,343.8 892.8,343.4 893.3,344.6 893.8,342.5 894.3,343.9 894.8,343.3 895.3,343.4 895.8,344.0 896.3,343.6 896.8,344.1
897.3,343.5 897.8,343.5 898.3,343.6 898.8,344.1 899.3,343.1 899.8,343.2 900.3,343.0 900.8,343.0 901.3,342.6 901.8,343.0
902.3,343.3 902.8,343.6 903.3,343.1 903.8,342.5 904.3,343.4 904.8,341.8 905.3,342.8 905.8,341.8 906.3,342.1 906.8,341.3
907.3,340.9 907.8,341.1 908.3,341.9 908.8,340.9 909.3,340.8 909.8,339.9 910.3,339.8 910.8,339.1 911.3,338.9 911.8,338.8
912.3,339.2 912.8,338.7 913.3,338.0 913.8,338.0 914.3,337.5 914.8,337.9 915.3,337.5 915.8,337.2 916.3,337.1 916.8,336.7
917.3,336.7 917.8,335.2 918.3,335.3 918.8,334.3 919.3,334.0 919.8,332.7 920.3,331.5 920.8,331.1 921.3,330.1 921.8,328.9
922.3,327.8 922.8,326.5 923.3,324.4 923.8,322.6 924.3,320.4 924.8,318.1 925.3,315.9 925.8,313.8 926.3,310.9 926.8,306.0
927.3,306.9 927.8,311.7 928.3,314.4 928.8,316.2 929.3,318.4 929.8,320.4 930.3,323.1 930.8,324.9 931.3,326.2 931.8,328.3
932.3,329.7 932.8,331.0 933.3,332.0 933.8,333.2 934.3,333.9 934.8,335.7 935.3,335.8 935.8,337.1 936.3,337.4 936.8,337.5
937.3,338.6 937.8,338.1 938.3,339.0 938.8,339.3 939.3,339.5 939.8,340.1 940.3,340.7 940.8,340.6 941.3,340.9 941.8,341.4
942.3,341.5 942.8,341.6 943.3,342.4 943.8,341.5 944.3,342.4 944.8,342.3 945.3,342.7 945.8,342.9 946.3,342.9 946.8,342.8
947.3,343.5 947.8,342.7 948.3,342.5 948.8,343.0 949.3,343.6 949.8,344.2 950.3,344.4 950.8,343.7 951.3,344.2 951.8,344.5
952.3,343.6 952.8,344.6 953.3,344.2 953.8,344.0 954.3,344.4 954.8,344.5 955.3,343.3 955.8,344.4 956.3,344.5 956.8,344.1
957.3,344.5 957.8,344.3 958.3,344.1 958.8,344.4 959.3,343.5 959.8,344.7 960.3,344.7 960.8,344.6 961.3,344.7 961.8,344.2
962.3,344.2 962.8,343.6 963.3,343.6 963.8,344.1 964.3,344.9 964.8,344.4 965.3,345.1 965.8,344.8 966.3,344.0 966.8,344.2
967.3,344.0 967.8,343.9 968.3,344.7 968.8,344.9 969.3,344.2 969.8,345.1 970.3,345.1 970.8,344.4 971.3,344.8 971.8,344.1
972.3,344.6 972.8,344.8 973.3,343.6 973.8,345.2 974.3,343.7 974.8,344.5 975.3,344.2 975.8,344.9 976.3,344.0 976.8,344.2
977.3,346.0 977.8,345.3 978.3,344.9 978.8,344.1 979.3,344.7 979.8,343.7 980.3,344.2 980.8,344.8 981.3,345.0 981.8,344.4
982.3,345.0 982.8,345.0 983.3,344.2 983.8,344.8 984.3,344.6 984.8,345.4 985.3,344.1 985.8,344.9 986.3,344.6 986.8,345.7
987.3,343.6 987.8,345.6 988.3,344.7 988.8,345.1 989.3,344.1 989.8,344.2 990.3,344.8 990.8,345.0 991.3,343.8 991.8,344.7
992.3,344.9 992.8,345.0 993.3,345.5 993.8,345.4 994.3,345.1 994.8,344.7 995.3,344.5 995.8,345.4 996.3,346.1 996.8,345.4
997.3,345.9 997.8,344.9 998.3,345.9 998.8,345.3 999.3,345.5 999.8,345.8 1000.3,345.8 1000.8,345.6 1001.3,345.6
1001.8,345.6 1002.3,345.0 1002.8,345.2 1003.3,345.3 1003.8,346.1 1004.3,344.7 1004.8,345.3 1005.3,345.7 1005.8,345.6
1006.3,344.7 1006.8,344.6 1007.3,344.9 1007.8,345.3 1008.3,345.6 1008.8,345.0 1009.3,345.2 1009.8,344.9 1010.3,344.7
1010.8,345.7 1011.3,345.9 1011.8,344.9 1012.3,344.6 1012.8,345.3 1013.3,344.2 1013.8,344.2 1014.3,344.9 1014.8,345.7
1015.3,344.6 1015.8,344.8 1016.3,345.5 1016.8,344.2 1017.3,343.9 1017.8,345.8 1018.3,345.2 1018.8,344.4 1019.3,344.8
1019.8,345.0 1020.3,344.4 1020.8,345.7 1021.3,343.6 1021.8,345.2 1022.3,344.6 1022.8,344.5 1023.3,344.5 1023.8,344.0
1024.3,344.2 1024.8,344.1 1025.3,343.7 1025.8,344.7 1026.3,343.7 1026.8,344.0 1027.3,345.4 1027.8,344.2 1028.3,345.3
1028.8,345.2 1029.3,344.7 1029.8,345.3 1030.3,344.3 1030.8,344.1 1031.3,344.3 1031.8,344.4 1032.3,344.8 1032.8,345.5
1033.3,344.1 1033.8,344.3 1034.3,344.5 1034.8,344.6 1035.3,344.3 1035.8,345.1 1036.3,344.2 1036.8,344.0 1037.3,345.3
1037.8,345.1 1038.3,344.4 1038.8,344.0 1039.3,344.5 1039.8,344.8 1040.3,345.2 1040.8,345.3 1041.3,344.3 1041.8,344.5
1042.3,344.4 1042.8,344.5 1043.3,344.2 1043.8,344.2 1044.3,344.3 1044.8,344.4 1045.3,343.4 1045.8,344.1 1046.3,344.6
1046.8,344.5 1047.3,344.6 1047.8,344.6 1048.3,344.5 1048.8,344.8 1049.3,344.3 1049.8,343.7 1050.3,344.9 1050.8,344.5
1051.3,343.5 1051.8,344.8 1052.3,344.8 1052.8,343.7 1053.3,344.6 1053.8,344.4 1054.3,344.6 1054.8,344.1 1055.3,345.2
1055.8,343.9 1056.3,343.9 1056.8,344.2 1057.3,344.4 1057.8,344.1 1058.3,345.1 1058.8,343.8 1059.3,345.5 1059.8,343.6
1060.3,344.5 1060.8,345.1 1061.3,345.4 1061.8,344.2 1062.3,343.5 1062.8,343.9 1063.3,344.0 1063.8,344.6 1064.3,343.8
1064.8,344.7 1065.3,343.8 1065.8,344.7 1066.3,345.6 1066.8,344.7 1067.3,344.9 1067.8,344.5 1068.3,344.2 1068.8,344.7
1069.3,344.7 1069.8,343.0 1070.3,344.0 1070.8,345.4 1071.3,344.7 1071.8,344.5 1072.3,344.2 1072.8,344.2 1073.3,344.3
1073.8,342.7 1074.3,345.1 1074.8,344.4 1075.3,343.8 1075.8,344.8 1076.3,344.0 1076.8,344.8 1077.3,343.7 1077.8,344.4
1078.3,343.1 1078.8,344.3 1079.3,343.1 1079.8,343.8 1080.3,343.9 1080.8,342.8 1081.3,343.7 1081.8,343.3 1082.3,343.6
1082.8,344.0 1083.3,343.4 1083.8,344.0 1084.3,342.9 1084.8,342.8 1085.3,343.7 1085.8,342.6 1086.3,343.3 1086.8,342.6
1087.3,342.9 1087.8,343.0 1088.3,342.3 1088.8,342.2 1089.3,341.7 1089.8,342.7 1090.3,341.7 1090.8,341.5 1091.3,341.8
1091.8,341.5 1092.3,341.1 1092.8,341.5 1093.3,341.3 1093.8,340.7 1094.3,340.7 1094.8,341.4 1095.3,340.7 1095.8,340.2
1096.3,340.3 1096.8,340.5 1097.3,341.0 1097.8,339.3 1098.3,340.0 1098.8,339.3 1099.3,339.6 1099.8,339.0 1100.3,338.7
1100.8,338.5 1101.3,338.4 1101.8,338.6 1102.3,339.1 1102.8,337.5 1103.3,337.3 1103.8,337.2 1104.3,337.9 1104.8,337.6
1105.3,337.3 1105.8,336.5 1106.3,335.9 1106.8,334.9 1107.3,335.0 1107.8,334.6 1108.3,333.5 1108.8,332.7 1109.3,331.7
1109.8,331.4 1110.3,330.3 1110.8,329.4 1111.3,327.7 1111.8,326.7 1112.3,327.1 1112.8,326.9 1113.3,327.3 1113.8,328.7
1114.3,329.8 1114.8,330.9 1115.3,331.0 1115.8,332.8 1116.3,333.5 1116.8,333.8 1117.3,334.3 1117.8,334.8 1118.3,335.0
1118.8,336.1 1119.3,335.4 1119.8,337.3 1120.3,336.0 1120.8,337.0 1121.3,336.7 1121.8,337.1 1122.3,337.7 1122.8,337.3
1123.3,338.6 1123.8,338.7 1124.3,339.2 1124.8,339.5 1125.3,339.0 1125.8,339.6 1126.3,339.9 1126.8,340.8 1127.3,340.5
1127.8,340.4 1128.3,341.3 1128.8,341.2 1129.3,342.2 1129.8,342.7 1130.3,342.8 1130.8,342.3 1131.3,343.4 1131.8,342.8
1132.3,343.3 1132.8,344.2 1133.3,344.1 1133.8,345.2 1134.3,345.0 1134.8,345.0 1135.3,345.6 1135.8,345.3 1136.3,345.9
1136.8,344.2 1137.3,345.3 1137.8,344.9 1138.3,345.3 1138.8,345.1 1139.3,346.4 1139.8,345.8 1140.3,345.5 1140.8,346.0
1141.3,344.4 1141.8,346.3 1142.3,344.7 1142.8,345.8 1143.3,346.7 1143.8,345.2 1144.3,345.3 1144.8,344.7 1145.3,344.9
1145.8,346.0 1146.3,345.9 1146.8,345.6 1147.3,346.0 1147.8,345.6 1148.3,345.4 1148.8,345.7 1149.3,345.3 1149.8,344.7
1150.3,345.7 1150.8,346.1 1151.3,346.4 1151.8,346.1 1152.3,345.7 1152.8,345.4 1153.3,345.7 1153.8,345.9 1154.3,345.7
1154.8,345.4 1155.3,345.8 1155.8,344.4 1156.3,345.9 1156.8,346.4 1157.3,344.9 1157.8,345.8 1158.3,345.2 1158.8,345.0
1159.3,345.7 1159.8,345.7 1160.3,345.3 1160.8,346.3 1161.3,345.7 1161.8,344.5 1162.3,346.2 1162.8,345.5 1163.3,346.2
1163.8,345.0 1164.3,345.0 1164.8,345.2 1165.3,345.6 1165.8,345.8 1166.3,345.1 1166.8,347.1 1167.3,344.9 1167.8,345.2
1168.3,346.3 1168.8,346.2 1169.3,346.0 1169.8,345.4 1170.3,345.3 1170.8,346.3 1171.3,344.5 1171.8,344.8 1172.3,345.1
1172.8,345.1 1173.3,345.5 1173.8,345.0 1174.3,345.1 1174.8,345.1 1175.3,344.7 1175.8,345.0 1176.3,344.2 1176.8,344.3
1177.3,344.8 1177.8,344.6 1178.3,345.1 1178.8,344.8 1179.3,344.9 1179.8,345.3 1180.3,344.0 1180.8,344.3 1181.3,344.7
1181.8,345.8 1182.3,344.7 1182.8,345.8 1183.3,345.5 1183.8,345.0 1184.3,345.2 1184.8,345.4 1185.3,344.9 1185.8,345.9
1186.3,345.4 1186.8,345.3 1187.3,345.0 1187.8,345.6 1188.3,345.7 1188.8,345.9 1189.3,346.6 1189.8,345.8 1190.3,345.2
1190.8,345.2 1191.3,344.9 1191.8,345.1 1192.3,344.9 1192.8,346.0 1193.3,344.4 1193.8,346.2 1194.3,345.1 1194.8,344.7
1195.3,344.9 1195.8,345.3 1196.3,345.3 1196.8,345.0 1197.3,345.8 1197.8,344.6 1198.3,344.8 1198.8,345.6 1199.3,344.6
1199.8,344.8 1200.3,345.5 1200.8,345.5 1201.3,345.5 1201.8,345.5 1202.3,345.2 1202.8,345.3 1203.3,345.2 1203.8,345.1
1204.3,345.6 1204.8,345.2 1205.3,345.6 1205.8,345.1 1206.3,345.6 1206.8,344.0 1207.3,346.2 1207.8,344.7 1208.3,345.0
1208.8,344.9 1209.3,346.1 1209.8,344.5 1210.3,345.0 1210.8,345.1 1211.3,346.4 1211.8,345.9 1212.3,344.8 1212.8,345.1
1213.3,345.3 1213.8,344.8 1214.3,345.9 1214.8,345.4 1215.3,344.4 1215.8,345.3 1216.3,345.2 1216.8,345.0 1217.3,345.3
1217.8,345.5 1218.3,345.0 1218.8,344.8 1219.3,345.3 1219.8,344.2 1220.3,345.6 1220.8,344.4 1221.3,345.1 1221.8,344.9
1222.3,345.2 1222.8,344.6 1223.3,345.1 1223.8,344.0 1224.3,345.5 1224.8,345.1 1225.3,345.3 1225.8,344.5 1226.3,344.9
1226.8,344.5 1227.3,344.7 1227.8,344.2 1228.3,344.7 1228.8,343.5 1229.3,345.3 1229.8,344.2 1230.3,345.3 1230.8,345.5
1231.3,345.2 1231.8,344.3 1232.3,345.1 1232.8,345.3 1233.3,345.3 1233.8,345.2 1234.3,345.0 1234.8,344.8 1235.3,344.9
1235.8,345.1 1236.3,345.0 1236.8,344.9 1237.3,344.9 1237.8,345.1 1238.3,344.8 1238.8,345.6 1239.3,345.2 1239.8,345.7
1240.3,344.8 1240.8,344.7 1241.3,344.9 1241.8,345.1 1242.3,345.2 1242.8,345.7 1243.3,344.2 1243.8,345.4 1244.3,344.4
1244.8,344.8 1245.3,345.1 1245.8,345.2 1246.3,345.8 1246.8,345.0 1247.3,345.7 1247.8,345.3 1248.3,344.9 1248.8,345.4
1249.3,344.7 1249.8,345.1 1250.3,345.8 1250.8,345.1 1251.3,344.7 1251.8,344.4 1252.3,344.6 1252.8,344.4 1253.3,345.6
1253.8,345.1 1254.3,344.8 1254.8,344.9 1255.3,345.6 1255.8,344.5 1256.3,344.5 1256.8,345.4 1257.3,345.0 1257.8,344.1
1258.3,344.9 1258.8,344.5 1259.3,344.4 1259.8,344.3 1260.3,344.2 1260.8,344.5 1261.3,344.9 1261.8,344.0 1262.3,344.7
1262.8,343.7 1263.3,344.3 1263.8,345.0 1264.3,344.5 1264.8,344.4 1265.3,345.3 1265.8,344.9 1266.3,344.8 1266.8,345.0
1267.3,344.1 1267.8,344.6 1268.3,345.7 1268.8,345.2 1269.3,345.7 1269.8,344.4 1270.3,344.7 1270.8,345.3 1271.3,345.4
1271.8,344.0 1272.3,345.0 1272.8,344.9 1273.3,344.7 1273.8,345.2 1274.3,344.5 1274.8,345.1 1275.3,345.2 1275.8,344.6
1276.3,344.9 1276.8,343.7 1277.3,345.0 1277.8,344.7 1278.3,343.8 1278.8,343.8 1279.3,344.5 1279.8,345.6 1280.3,344.5
1280.8,343.8 1281.3,344.2 1281.8,343.2 1282.3,343.9 1282.8,343.8 1283.3,344.2 1283.8,344.7 1284.3,343.9 1284.8,345.0
1285.3,344.0 1285.8,344.2 1286.3,343.9 1286.8,343.5 1287.3,343.7 1287.8,343.8 1288.3,344.8 1288.8,344.0 1289.3,343.3
1289.8,344.2 1290.3,344.3 1290.8,343.6 1291.3,344.4 1291.8,344.3 1292.3,343.6 1292.8,344.7 1293.3,343.6 1293.8,343.9
1294.3,344.7 1294.8,343.7 1295.3,343.2 1295.8,344.2 1296.3,344.6 1296.8,344.6 1297.3,344.4 1297.8,344.0 1298.3,345.2
1298.8,345.1 1299.3,344.7 1299.8,344.8 1300.3,343.7 1300.8,344.8 1301.3,345.1 1301.8,344.8 1302.3,344.8 1302.8,344.4
1303.3,344.4 1303.8,343.2 1304.3,344.0 1304.8,344.3 1305.3,343.7 1305.8,343.5 1306.3,344.0 1306.8,343.8 1307.3,344.9
1307.8,344.1 1308.3,344.3 1308.8,345.1 1309.3,344.0 1309.8,344.7 1310.3,345.4 1310.8,344.3 1311.3,344.6 1311.8,345.4
1312.3,345.4 1312.8,344.7 1313.3,344.8 1313.8,344.8 1314.3,344.7 1314.8,345.5 1315.3,345.0 1315.8,344.8 1316.3,344.8
1316.8,345.6 1317.3,343.8 1317.8,345.0 1318.3,345.3 1318.8,344.8 1319.3,344.6 1319.8,345.4 1320.3,345.2 1320.8,346.0
1321.3,344.7 1321.8,345.2 1322.3,344.5 1322.8,345.6 1323.3,345.5 1323.8,345.3 1324.3,345.5 1324.8,345.3 1325.3,345.2
1325.8,345.0 1326.3,345.4 1326.8,345.2 1327.3,344.8 1327.8,344.9 1328.3,345.0 1328.8,345.7 1329.3,345.0 1329.8,344.9
1330.3,344.3 1330.8,345.3 1331.3,345.0 1331.8,345.0 1332.3,345.0 1332.8,345.1 1333.3,344.0 1333.8,344.4 1334.3,344.6
1334.8,345.1 1335.3,344.9 1335.8,345.1 1336.3,344.8 1336.8,344.9 1337.3,344.3 1337.8,344.3 1338.3,344.5 1338.8,344.4
1339.3,344.9 1339.8,344.6 1340.3,344.6 1340.8,344.5 1341.3,345.2 1341.8,344.3 1342.3,344.9 1342.8,344.3 1343.3,344.8
1343.8,344.8 1344.3,344.5 1344.8,344.1 1345.3,344.8 1345.8,344.7 1346.3,344.5 1346.8,344.6 1347.3,344.5 1347.8,345.8
1348.3,344.4 1348.8,343.9 1349.3,343.9 1349.8,345.0 1350.3,343.8 1350.8,344.9 1351.3,344.4 1351.8,344.7 1352.3,344.6
1352.8,345.0 1353.3,344.3 1353.8,344.5 1354.3,344.1 1354.8,343.5 1355.3,345.1 1355.8,343.8 1356.3,344.7 1356.8,344.8
1357.3,344.5 1357.8,343.9 1358.3,345.1 1358.8,343.7 1359.3,344.8 1359.8,344.9 1360.3,343.6 1360.8,344.6 1361.3,343.9
1361.8,344.6 1362.3,343.4 1362.8,345.3 1363.3,344.8 1363.8,344.5 1364.3,344.4 1364.8,345.4 1365.3,344.9 1365.8,344.9
1366.3,344.6 1366.8,344.7 1367.3,344.8 1367.8,344.5 1368.3,345.0 1368.8,345.8 1369.3,345.2 1369.8,345.3 1370.3,345.1
1370.8,346.0 1371.3,344.6 1371.8,343.9 1372.3,343.3 1372.8,344.5 1373.3,344.9 1373.8,345.2 1374.3,343.9 1374.8,344.3
1375.3,345.3 1375.8,343.7 1376.3,344.0 1376.8,344.2 1377.3,343.8 1377.8,344.2 1378.3,343.2 1378.8,343.6 1379.3,343.5
1379.8,344.1 1380.3,343.7 1380.8,343.5 1381.3,342.5 1381.8,343.5 1382.3,342.6 1382.8,343.1 1383.3,341.6 1383.8,341.7
1384.3,341.8 1384.8,342.8 1385.3,341.6 1385.8,342.1 1386.3,342.0 1386.8,342.7 1387.3,342.3 1387.8,343.3 1388.3,342.2
1388.8,343.9 1389.3,343.0 1389.8,342.5 1390.3,343.6 1390.8,343.3 1391.3,343.0 1391.8,344.2 1392.3,343.4 1392.8,343.1
1393.3,343.9 1393.8,344.1 1394.3,344.2 1394.8,343.1 1395.3,344.7 1395.8,344.1 1396.3,344.3 1396.8,343.6 1397.3,343.8
1397.8,344.0 1398.3,344.4 1398.8,345.6 1399.3,344.7 1399.8,344.7 1400.3,345.4 1400.8,345.6 1401.3,345.3 1401.8,344.7
1402.3,344.1 1402.8,343.9 1403.3,344.8 1403.8,344.7 1404.3,345.5 1404.8,346.0 1405.3,344.8 1405.8,344.9 1406.3,345.0
1406.8,344.0 1407.3,345.0 1407.8,345.5 1408.3,346.4 1408.8,344.3 1409.3,345.4 1409.8,345.8 1410.3,344.4 1410.8,344.9
1411.3,345.7 1411.8,344.7 1412.3,344.8 1412.8,345.1 1413.3,345.6 1413.8,345.2 1414.3,344.7 1414.8,345.3 1415.3,344.4
1415.8,344.2 1416.3,344.7 1416.8,344.8 1417.3,345.0 1417.8,345.0 1418.3,344.7 1418.8,344.0 1419.3,344.0 1419.8,344.8
1420.3,345.4 1420.8,344.6 1421.3,344.8 1421.8,345.4 1422.3,344.5 1422.8,345.5 1423.3,345.0 1423.8,345.0 1424.3,345.6
1424.8,344.9 1425.3,345.8 1425.8,344.7 1426.3,344.8 1426.8,345.0 1427.3,345.6 1427.8,344.6 1428.3,345.2 1428.8,345.2
1429.3,345.5 1429.8,344.6 1430.3,345.0 1430.8,345.2 1431.3,345.7 1431.8,344.6 1432.3,344.8 1432.8,344.6 1433.3,342.8
1433.8,344.5 1434.3,344.4 1434.8,343.8 1435.3,344.0 1435.8,344.4 1436.3,344.5 1436.8,344.5 1437.3,344.3 1437.8,344.6
1438.3,345.1 1438.8,344.6 1439.3,345.4 1439.8,345.6 1440.3,345.3 1440.8,344.6 1441.3,344.8 1441.8,343.5 1442.3,344.8
1442.8,344.7 1443.3,344.4 1443.8,343.7 1444.3,345.3 1444.8,345.4 1445.3,344.7 1445.8,345.3 1446.3,344.6 1446.8,343.8
1447.3,344.7 1447.8,344.5 1448.3,344.6 1448.8,344.7 1449.3,344.1 1449.8,343.8 1450.3,345.2 1450.8,344.7 1451.3,344.8
1451.8,344.0 1452.3,343.2 1452.8,343.8 1453.3,345.2 1453.8,344.8 1454.3,343.5 1454.8,344.1 1455.3,343.8 1455.8,344.5
1456.3,345.4 1456.8,344.1 1457.3,344.6 1457.8,344.3 1458.3,344.2 1458.8,343.9 1459.3,344.1 1459.8,344.7 1460.3,344.7
1460.8,344.8 1461.3,344.1 1461.8,344.1 1462.3,344.6 1462.8,344.4 1463.3,344.1 1463.8,344.3 1464.3,345.4 1464.8,344.6
1465.3,345.0 1465.8,345.2 1466.3,344.6 1466.8,345.6 1467.3,344.9 1467.8,345.2 1468.3,344.5 1468.8,345.1 1469.3,344.7
1469.8,345.0 1470.3,344.4 1470.8,344.4 1471.3,344.6 1471.8,345.0 1472.3,343.9 1472.8,344.6 1473.3,344.5 1473.8,345.1
1474.3,343.4 1474.8,343.8 1475.3,344.9 1475.8,344.7 1476.3,344.8 1476.8,344.5 1477.3,344.7 1477.8,344.8 1478.3,345.0
1478.8,343.9 1479.3,344.2 1479.8,345.2 1480.3,345.3 1480.8,344.3 1481.3,345.7 1481.8,345.1 1482.3,345.3 1482.8,344.8
1483.3,344.5 1483.8,344.9 1484.3,344.9 1484.8,344.4 1485.3,345.0 1485.8,344.9 1486.3,344.1 1486.8,344.5 1487.3,344.8
1487.8,344.4 1488.3,345.2 1488.8,345.4 1489.3,344.3 1489.8,344.9 1490.3,345.0 1490.8,345.3 1491.3,344.1 1491.8,344.3
1492.3,345.0 1492.8,345.4 1493.3,345.0 1493.8,344.4 1494.3,345.1 1494.8,344.5 1495.3,344.1 1495.8,344.9 1496.3,345.3
1496.8,345.3 1497.3,344.9 1497.8,344.4 1498.3,344.1 1498.8,345.0 1499.3,344.1 1499.8,344.7 1500.3,344.8 1500.8,344.2
1501.3,344.4 1501.8,344.5 1502.3,344.8 1502.8,344.1 1503.3,344.4 1503.8,344.6 1504.3,343.9 1504.8,344.3 1505.3,344.3
1505.8,344.7 1506.3,344.1 1506.8,344.6 1507.3,344.9 1507.8,345.5 1508.3,344.9 1508.8,345.7 1509.3,345.2 1509.8,345.4
1510.3,344.7 1510.8,344.8 1511.3,345.4 1511.8,344.9 1512.3,346.0 1512.8,345.3 1513.3,346.5 1513.8,344.9 1514.3,345.5
1514.8,345.4 1515.3,345.2 1515.8,345.3 1516.3,344.0 1516.8,345.0 1517.3,345.5 1517.8,344.9 1518.3,344.2 1518.8,344.6
1519.3,344.8 1519.8,345.2 1520.3,344.4 1520.8,345.2 1521.3,344.3 1521.8,345.1 1522.3,344.7 1522.8,345.7 1523.3,344.8
1523.8,345.1 1524.3,344.3 1524.8,343.4 1525.3,344.4 1525.8,344.4 1526.3,343.9 1526.8,344.2 1527.3,343.3 1527.8,344.0
1528.3,343.8 1528.8,344.8 1529.3,344.0 1529.8,344.0 1530.3,343.9 1530.8,342.9 1531.3,343.3 1531.8,344.3 1532.3,343.9
1532.8,342.8 1533.3,343.4 1533.8,342.9 1534.3,343.1 1534.8,342.7 1535.3,342.4 1535.8,341.6 1536.3,341.9 1536.8,341.4
1537.3,341.5 1537.8,341.9 1538.3,341.4 1538.8,341.2 1539.3,341.1 1539.8,340.0 1540.3,340.3 1540.8,340.8 1541.3,340.8
1541.8,339.1 1542.3,339.8 1542.8,340.6 1543.3,342.1 1543.8,340.5 1544.3,341.0 1544.8,341.4 1545.3,342.0 1545.8,341.1
1546.3,341.7 1546.8,341.9 1547.3,342.0 1547.8,342.3 1548.3,343.0 1548.8,343.6 1549.3,343.4 1549.8,343.4 1550.3,343.4
1550.8,343.3 1551.3,343.1 1551.8,343.2 1552.3,344.4 1552.8,344.5 1553.3,344.3 1553.8,344.2 1554.3,344.1 1554.8,344.4
1555.3,344.0 1555.8,343.8 1556.3,343.6 1556.8,344.4 1557.3,343.9 1557.8,343.5 1558.3,344.3 1558.8,344.2 1559.3,345.0
1559.8,345.4 1560.3,345.0 1560.8,345.2 1561.3,345.8 1561.8,344.2 1562.3,344.3 1562.8,344.9 1563.3,344.7 1563.8,345.0
1564.3,345.5 1564.8,344.9 1565.3,344.0 1565.8,346.3 1566.3,344.4 1566.8,344.2 1567.3,345.4 1567.8,344.0 1568.3,344.3
1568.8,344.9 1569.3,344.4 1569.8,344.9 1570.3,345.4 1570.8,344.9 1571.3,344.6 1571.8,345.1 1572.3,345.0 1572.8,346.3
1573.3,344.3 1573.8,345.5 1574.3,344.7 1574.8,345.0 1575.3,343.8 1575.8,344.3 1576.3,344.2 1576.8,344.0 1577.3,344.5
1577.8,345.6 1578.3,344.0 1578.8,345.5 1579.3,344.7 1579.8,344.7 1580.3,344.0 1580.8,344.8 1581.3,345.4 1581.8,344.3
1582.3,344.7 1582.8,344.6 1583.3,344.3 1583.8,344.0 1584.3,345.1 1584.8,344.9 1585.3,344.1 1585.8,345.0 1586.3,344.0
1586.8,344.4 1587.3,343.6 1587.8,343.4 1588.3,344.1 1588.8,345.2 1589.3,344.4 1589.8,345.0 1590.3,345.3 1590.8,344.6
1591.3,344.0 1591.8,344.5 1592.3,344.2 1592.8,344.8 1593.3,344.2 1593.8,345.2 1594.3,345.1 1594.8,344.7 1595.3,344.6
1595.8,344.8 1596.3,344.6 1596.8,344.7 1597.3,345.1 1597.8,344.3 1598.3,344.4 1598.8,344.5 1599.3,343.5 1599.8,345.3
1600.3,344.5 1600.8,345.4 1601.3,343.7 1601.8,343.7 1602.3,344.6 1602.8,344.8 1603.3,345.3 1603.8,345.2 1604.3,345.5
1604.8,344.9 1605.3,346.1 1605.8,345.3 1606.3,344.0 1606.8,344.5 1607.3,344.5 1607.8,344.8 1608.3,344.5 1608.8,345.0
1609.3,345.4 1609.8,344.0 1610.3,344.4 1610.8,345.6 1611.3,345.6 1611.8,345.6 1612.3,344.7 1612.8,345.2 1613.3,344.7
1613.8,343.6 1614.3,344.1 1614.8,344.8 1615.3,344.4 1615.8,343.9 1616.3,343.8 1616.8,344.5 1617.3,344.4 1617.8,344.0
1618.3,345.1 1618.8,344.1 1619.3,344.1 1619.8,344.4 1620.3,344.4 1620.8,344.4 1621.3,343.4 1621.8,345.7 1622.3,344.8
1622.8,344.7 1623.3,344.2 1623.8,344.5 1624.3,344.8 1624.8,344.2 1625.3,344.9 1625.8,344.8 1626.3,344.3 1626.8,344.1
1627.3,344.8 1627.8,345.6 1628.3,344.5 1628.8,344.9 1629.3,344.3 1629.8,343.9 1630.3,344.9 1630.8,344.1 1631.3,345.4
1631.8,343.9 1632.3,343.5 1632.8,344.4 1633.3,344.7 1633.8,344.7 1634.3,344.4 1634.8,343.7 1635.3,344.9 1635.8,343.8
1636.3,345.5 1636.8,344.1 1637.3,344.3 1637.8,344.2 1638.3,345.1 1638.8,345.4 1639.3,344.6 1639.8,344.6 1640.3,343.9
1640.8,344.9 1641.3,343.2 1641.8,345.0 1642.3,344.7 1642.8,344.0 1643.3,344.9 1643.8,344.9 1644.3,345.5 1644.8,345.4
1645.3,344.7 1645.8,344.8 1646.3,344.0 1646.8,345.0 1647.3,344.0 1647.8,344.3 1648.3,343.9 1648.8,344.4 1649.3,344.9
1649.8,344.2 1650.3,344.7 1650.8,344.0 1651.3,344.9 1651.8,345.2 1652.3,344.8 1652.8,344.7 1653.3,344.3 1653.8,345.2
1654.3,345.5 1654.8,344.8 1655.3,345.0 1655.8,344.8 1656.3,344.4 1656.8,345.1 1657.3,344.4 1657.8,345.8 1658.3,346.2
1658.8,345.8 1659.3,345.6 1659.8,345.4 1660.3,345.5 1660.8,344.8 1661.3,345.6 1661.8,345.5 1662.3,345.8 1662.8,346.3
1663.3,345.5 1663.8,346.2 1664.3,345.7 1664.8,344.9 1665.3,345.5 1665.8,345.1 1666.3,345.2 1666.8,345.2 1667.3,345.0
1667.8,344.6 1668.3,344.9 1668.8,344.4 1669.3,344.1 1669.8,344.4 1670.3,343.5 1670.8,344.5 1671.3,344.6 1671.8,344.1
1672.3,344.8 1672.8,344.5 1673.3,344.2 1673.8,344.3 1674.3,344.5 1674.8,343.8 1675.3,344.2 1675.8,344.3 1676.3,344.2
1676.8,343.7 1677.3,344.6 1677.8,342.8 1678.3,343.7 1678.8,343.9 1679.3,344.7 1679.8,343.1 1680.3,343.3 1680.8,343.3
1681.3,343.8 1681.8,343.6 1682.3,343.4 1682.8,344.5 1683.3,344.3 1683.8,344.1 1684.3,343.8 1684.8,344.0 1685.3,344.2
1685.8,345.4 1686.3,343.9 1686.8,344.2 1687.3,344.3 1687.8,344.6 1688.3,345.1 1688.8,344.1 1689.3,344.4 1689.8,345.5
1690.3,345.2 1690.8,345.8 1691.3,344.8 1691.8,344.4 1692.3,344.9 1692.8,344.9 1693.3,345.6 1693.8,344.9 1694.3,345.3
1694.8,345.7 1695.3,345.4 1695.8,345.1 1696.3,345.1 1696.8,345.4 1697.3,345.6 1697.8,344.8 1698.3,344.6 1698.8,346.1
1699.3,344.5 1699.8,345.1 1700.3,344.8 1700.8,345.8 1701.3,345.2 1701.8,345.8 1702.3,345.7 1702.8,344.6 1703.3,345.0
1703.8,344.1 1704.3,344.6 1704.8,345.2 1705.3,345.0 1705.8,345.0 1706.3,344.8 1706.8,344.5 1707.3,345.1 1707.8,344.8
1708.3,344.8 1708.8,345.3 1709.3,344.6 1709.8,345.8 1710.3,344.7 1710.8,345.7 1711.3,345.0 1711.8,344.6 1712.3,344.8
1712.8,345.2 1713.3,345.1 1713.8,345.2 1714.3,344.9 1714.8,344.7 1715.3,344.5 1715.8,344.3 1716.3,344.5 1716.8,343.7
1717.3,344.7 1717.8,344.5 1718.3,344.4 1718.8,344.0 1719.3,344.4 1719.8,344.7 1720.3,343.8 1720.8,343.8 1721.3,344.1
1721.8,344.4 1722.3,343.7 1722.8,344.6 1723.3,343.3 1723.8,345.1 1724.3,343.6 1724.8,343.7 1725.3,344.0 1725.8,343.6
1726.3,344.2 1726.8,344.0 1727.3,345.1 1727.8,344.4 1728.3,344.9 1728.8,344.5 1729.3,345.1 1729.8,344.8 1730.3,343.9
1730.8,344.4 1731.3,344.8 1731.8,344.9 1732.3,343.7 1732.8,344.3 1733.3,343.9 1733.8,344.0 1734.3,344.8 1734.8,344.9
1735.3,343.7 1735.8,344.2 1736.3,345.4 1736.8,345.5 1737.3,345.3 1737.8,344.3 1738.3,344.9 1738.8,345.4 1739.3,344.8
1739.8,344.6 1740.3,344.4 1740.8,344.9 1741.3,345.1 1741.8,345.5 1742.3,344.5 1742.8,344.5 1743.3,343.7 1743.8,345.0
1744.3,344.0 1744.8,345.0 1745.3,343.9 1745.8,344.2 1746.3,344.6 1746.8,344.4 1747.3,343.1 1747.8,344.2 1748.3,344.4
1748.8,345.5 1749.3,345.0 1749.8,345.1 1750.3,344.7 1750.8,345.1 1751.3,344.4 1751.8,343.7 1752.3,344.0 1752.8,344.5
1753.3,344.0 1753.8,344.2 1754.3,344.1 1754.8,344.9 1755.3,342.7 1755.8,343.4 1756.3,344.0 1756.8,343.8 1757.3,344.9
1757.8,344.3 1758.3,343.8 1758.8,343.4 1759.3,343.6 1759.8,343.4 1760.3,342.7 1760.8,342.9 1761.3,343.6 1761.8,343.4
1762.3,343.2 1762.8,344.0 1763.3,342.6 1763.8,342.8 1764.3,343.4 1764.8,343.5 1765.3,342.6 1765.8,343.1 1766.3,342.7
1766.8,342.4 1767.3,342.9 1767.8,342.5 1768.3,343.4 1768.8,343.1 1769.3,342.8 1769.8,343.5 1770.3,343.5 1770.8,342.5
1771.3,342.0 1771.8,342.4 1772.3,342.7 1772.8,341.4 1773.3,341.5 1773.8,343.1 1774.3,342.4 1774.8,342.6 1775.3,342.3
1775.8,341.9 1776.3,342.2 1776.8,341.8 1777.3,342.4 1777.8,341.7 1778.3,341.7 1778.8,341.4 1779.3,340.8 1779.8,340.9
1780.3,341.5 1780.8,340.5 1781.3,340.9 1781.8,340.5 1782.3,340.4 1782.8,341.1 1783.3,339.7 1783.8,339.7 1784.3,339.6
1784.8,340.6 1785.3,340.1 1785.8,339.0 1786.3,339.3 1786.8,339.6 1787.3,339.5 1787.8,339.4 1788.3,340.2 1788.8,339.4
1789.3,340.1 1789.8,340.0 1790.3,340.1 1790.8,339.4 1791.3,340.0 1791.8,341.2 1792.3,341.0 1792.8,340.1 1793.3,341.2
1793.8,340.3 1794.3,341.7 1794.8,341.1 1795.3,342.4 1795.8,342.4 1796.3,342.2 1796.8,341.4 1797.3,342.1 1797.8,341.7
1798.3,342.1 1798.8,342.0 1799.3,342.4 1799.8,342.9 1800.3,343.1 1800.8,341.7 1801.3,342.3 1801.8,342.3 1802.3,343.4
1802.8,342.5 1803.3,343.3 1803.8,343.1 1804.3,343.5 1804.8,343.0 1805.3,342.9 1805.8,343.6 1806.3,343.8 1806.8,343.2
1807.3,343.0 1807.8,343.0 1808.3,343.2 1808.8,343.8 1809.3,342.9 1809.8,344.0 1810.3,342.7 1810.8,343.5 1811.3,343.0
1811.8,343.6 1812.3,344.5 1812.8,343.3 1813.3,344.1 1813.8,343.3 1814.3,343.9 1814.8,344.4 1815.3,343.9 1815.8,343.6
1816.3,343.9 1816.8,344.0 1817.3,344.0 1817.8,344.1 1818.3,344.1 1818.8,344.1 1819.3,344.1 1819.8,344.1 1820.3,344.1
1820.8,344.1 1821.3,344.1 1821.8,344.1 1822.3,344.1 1822.8,344.1 1823.3,344.1 1823.8,344.1"/>
</defs>
<g class="curve" stroke="#000">
<use href="#c-unground" stroke-width="11" stroke-opacity="0.25"/>
<use href="#c-unground" stroke-width="9"/>
</g>
<g class="curve" stroke="#0000ff">
<use href="#c-ground" stroke-width="12.2" stroke-opacity="0.3"/>
<use href="#c-ground" stroke-width="9.6"/>
</g>
<rect x="132" y="1157.8" width="11" height="1.3" fill="#fff"/>
<rect x="1821" y="1157.8" width="11.5" height="1.3" fill="#fff"/>
<g id="pdf" stroke="#ff0000" stroke-width="9.8" stroke-linecap="round">
<line x1="526.90" y1="1250.6" x2="526.90" y2="1308.9"/>
<line x1="925.20" y1="1269.3" x2="925.20" y2="1308.9"/>
<line x1="1111.30" y1="1280.2" x2="1111.30" y2="1308.9"/>
<line x1="1386.90" y1="1290.5" x2="1386.90" y2="1308.9"/>
<line x1="1539.30" y1="1288.2" x2="1539.30" y2="1308.9"/>
<line x1="1785.90" y1="1287.9" x2="1785.90" y2="1308.9"/>
</g>
<g id="legend" stroke-width="10" stroke-linecap="round">
<line x1="1001" y1="520.9" x2="1171.3" y2="520.9" stroke="#000"/>
<line x1="1001" y1="618.3" x2="1171.3" y2="618.3" stroke="#0000ff"/>
</g>
<g id="labels">
<text x="461.6" y="198.6" font-size="77" transform="translate(461.6 198.6) scale(1 1.04) translate(-461.6 -198.6)"><tspan font-size="71.61">(</tspan><tspan dx="1.79">111</tspan><tspan font-size="71.61" dx="0.90">)</tspan></text>
<text x="862.4" y="236.7" font-size="77" transform="translate(862.4 236.7) scale(1 1.04) translate(-862.4 -236.7)"><tspan font-size="71.61">(</tspan><tspan dx="1.79">220</tspan><tspan font-size="71.61" dx="0.90">)</tspan></text>
<text x="1042.3" y="254.7" font-size="77" transform="translate(1042.3 254.7) scale(1 1.04) translate(-1042.3 -254.7)"><tspan font-size="71.61">(</tspan><tspan dx="1.79">311</tspan><tspan font-size="71.61" dx="0.90">)</tspan></text>
<text x="1312.3" y="284" font-size="77" transform="translate(1312.3 284) scale(1 1.04) translate(-1312.3 -284)"><tspan font-size="71.61">(</tspan><tspan dx="1.79">400</tspan><tspan font-size="71.61" dx="0.90">)</tspan></text>
<text x="1480.6" y="277.6" font-size="77" transform="translate(1480.6 277.6) scale(1 1.04) translate(-1480.6 -277.6)"><tspan font-size="71.61">(</tspan><tspan dx="1.79">331</tspan><tspan font-size="71.61" dx="0.90">)</tspan></text>
<text x="1657.7" y="284.8" font-size="77" transform="translate(1657.7 284.8) scale(1 1.04) translate(-1657.7 -284.8)"><tspan font-size="71.61">(</tspan><tspan dx="1.79">422</tspan><tspan font-size="71.61" dx="0.90">)</tspan></text>
<text x="528.2" y="246.5" font-size="49.3" text-anchor="middle" class="sym" transform="translate(528.2 246.5) scale(0.966 1) translate(-528.2 -246.5)">♥</text>
<text x="932.4" y="292.8" font-size="49.3" text-anchor="middle" class="sym" transform="translate(932.4 292.8) scale(0.966 1) translate(-932.4 -292.8)">♥</text>
<text x="1114.2" y="320.7" font-size="49.3" text-anchor="middle" class="sym" transform="translate(1114.2 320.7) scale(0.966 1) translate(-1114.2 -320.7)">♥</text>
<text x="1412.2" y="340.3" font-size="49.3" text-anchor="middle" class="sym" transform="translate(1412.2 340.3) scale(0.966 1) translate(-1412.2 -340.3)">♥</text>
<text x="1542.6" y="329.2" font-size="49.3" text-anchor="middle" class="sym" transform="translate(1542.6 329.2) scale(0.966 1) translate(-1542.6 -329.2)">♥</text>
<text x="1783" y="338.7" font-size="49.3" text-anchor="middle" class="sym" transform="translate(1783 338.7) scale(0.966 1) translate(-1783 -338.7)">♥</text>
<text x="1190.1" y="548.6" font-size="76" transform="translate(1190.1 548.6) scale(1 1.04) translate(-1190.1 -548.6)">DSSW un-ground</text>
<text x="1190.1" y="645.7" font-size="76" transform="translate(1190.1 645.7) scale(1 1.04) translate(-1190.1 -645.7)">DSSW ground</text>
<text x="999.5" y="739.3" font-size="76" transform="translate(999.5 739.3) scale(1 1.04) translate(-999.5 -739.3)">Si</text>
<text x="1129.7" y="739.8" font-size="49.3" text-anchor="middle" class="sym" transform="translate(1129.7 739.8) scale(0.966 1) translate(-1129.7 -739.8)">♥</text>
<text x="1326.8" y="1241.2" font-size="76.1" style="fill:#ff0000" transform="translate(1326.8 1241.2) scale(1 1.04) translate(-1326.8 -1241.2)">PDF#27-1402</text>
<text x="140.9" y="1389" font-size="78" text-anchor="middle" transform="translate(140.9 1389) scale(1 1.035) translate(-140.9 -1389)">10</text>
<text x="352.2" y="1389" font-size="78" text-anchor="middle" transform="translate(352.2 1389) scale(1 1.035) translate(-352.2 -1389)">20</text>
<text x="563.5" y="1389" font-size="78" text-anchor="middle" transform="translate(563.5 1389) scale(1 1.035) translate(-563.5 -1389)">30</text>
<text x="775.8" y="1389" font-size="78" text-anchor="middle" transform="translate(775.8 1389) scale(1 1.035) translate(-775.8 -1389)">40</text>
<text x="986.5" y="1389" font-size="78" text-anchor="middle" transform="translate(986.5 1389) scale(1 1.035) translate(-986.5 -1389)">50</text>
<text x="1198" y="1389" font-size="78" text-anchor="middle" transform="translate(1198 1389) scale(1 1.035) translate(-1198 -1389)">60</text>
<text x="1409" y="1389" font-size="78" text-anchor="middle" transform="translate(1409 1389) scale(1 1.035) translate(-1409 -1389)">70</text>
<text x="1620.3" y="1389" font-size="78" text-anchor="middle" transform="translate(1620.3 1389) scale(1 1.035) translate(-1620.3 -1389)">80</text>
<text x="1831.5" y="1389" font-size="78" text-anchor="middle" transform="translate(1831.5 1389) scale(1 1.035) translate(-1831.5 -1389)">90</text>
<text x="736.4" y="1465.5" font-size="82">2 theta <tspan font-size="76.26">(</tspan><tspan dx="1.91">degree</tspan><tspan font-size="76.26" dx="1.91">)</tspan></text>
<text x="111.2" y="996.7" font-size="106.2" transform="rotate(-90 111.2 996.7)">Intensity <tspan font-size="100.89">(</tspan><tspan dx="1.77">a.u</tspan><tspan font-size="100.89" dx="1.77">)</tspan></text>
</g>
</svg>
</body></html>
